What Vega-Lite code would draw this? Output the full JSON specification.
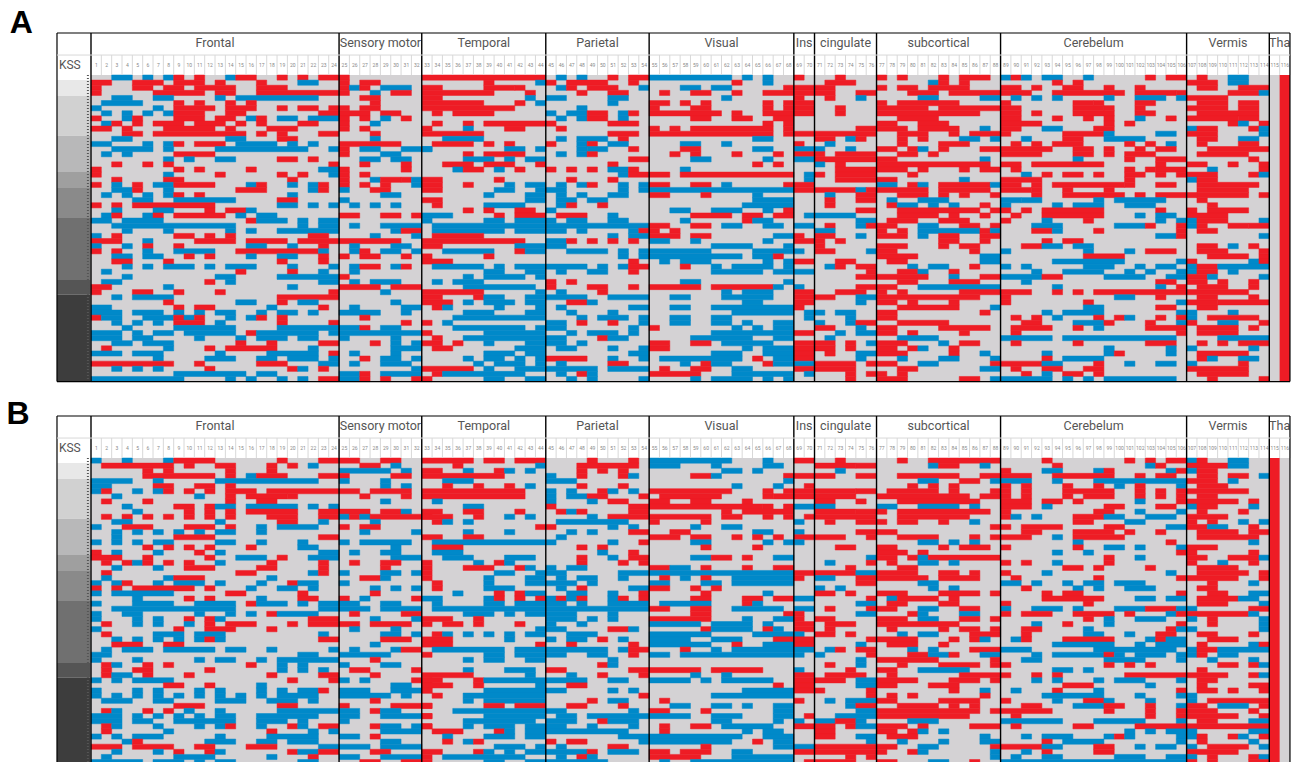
{"$schema":"https://vega.github.io/schema/vega-lite/v6.json","padding":0,"spacing":0,"background":"white","config":{"view":{"stroke":null},"axis":{"disable":true},"concat":{"spacing":0}},
"datasets":{"A":[
{"r":0,"a":2,"b":4,"v":"B"},{"r":0,"a":5,"b":6,"v":"B"},{"r":0,"a":7,"b":8,"v":"B"},{"r":0,"a":8,"b":9,"v":"R"},{"r":0,"a":10,"b":11,"v":"R"},{"r":0,"a":13,"b":14,"v":"B"},{"r":0,"a":14,"b":16,"v":"R"},{"r":0,"a":18,"b":19,"v":"R"},{"r":0,"a":20,"b":21,"v":"R"},{"r":0,"a":22,"b":25,"v":"R"},
{"r":1,"a":0,"b":2,"v":"R"},{"r":1,"a":4,"b":7,"v":"R"},{"r":1,"a":8,"b":11,"v":"R"},{"r":1,"a":12,"b":13,"v":"R"},{"r":1,"a":16,"b":17,"v":"R"},{"r":1,"a":20,"b":22,"v":"B"},{"r":1,"a":24,"b":25,"v":"R"},{"r":1,"a":26,"b":28,"v":"R"},
{"r":2,"a":0,"b":1,"v":"R"},{"r":2,"a":4,"b":6,"v":"R"},{"r":2,"a":7,"b":9,"v":"R"},{"r":2,"a":10,"b":14,"v":"R"},{"r":2,"a":16,"b":19,"v":"R"},{"r":2,"a":24,"b":25,"v":"R"},{"r":2,"a":25,"b":26,"v":"B"},{"r":2,"a":26,"b":27,"v":"R"},{"r":2,"a":28,"b":31,"v":"B"},
{"r":3,"a":0,"b":1,"v":"R"},{"r":3,"a":6,"b":11,"v":"R"},{"r":3,"a":12,"b":14,"v":"R"},{"r":3,"a":16,"b":25,"v":"R"},{"r":3,"a":27,"b":28,"v":"B"},{"r":3,"a":29,"b":31,"v":"R"},
{"r":4,"a":2,"b":4,"v":"B"},{"r":4,"a":6,"b":8,"v":"B"},{"r":4,"a":12,"b":13,"v":"B"},{"r":4,"a":14,"b":22,"v":"B"},{"r":4,"a":26,"b":28,"v":"R"},
{"r":5,"a":1,"b":5,"v":"B"},{"r":5,"a":8,"b":9,"v":"R"},{"r":5,"a":10,"b":11,"v":"R"},{"r":5,"a":13,"b":14,"v":"R"},{"r":5,"a":15,"b":16,"v":"R"},{"r":5,"a":27,"b":28,"v":"R"},
{"r":6,"a":0,"b":1,"v":"B"},{"r":6,"a":6,"b":7,"v":"B"},{"r":6,"a":8,"b":12,"v":"R"},{"r":6,"a":13,"b":16,"v":"R"},{"r":6,"a":18,"b":19,"v":"R"},{"r":6,"a":20,"b":22,"v":"R"},{"r":6,"a":23,"b":25,"v":"R"},{"r":6,"a":26,"b":28,"v":"R"},
{"r":7,"a":1,"b":2,"v":"B"},{"r":7,"a":3,"b":4,"v":"B"},{"r":7,"a":5,"b":6,"v":"B"},{"r":7,"a":7,"b":8,"v":"B"},{"r":7,"a":8,"b":11,"v":"R"},{"r":7,"a":13,"b":15,"v":"R"},{"r":7,"a":22,"b":27,"v":"R"},{"r":7,"a":28,"b":30,"v":"R"},
{"r":8,"a":0,"b":1,"v":"R"},{"r":8,"a":3,"b":4,"v":"B"},{"r":8,"a":4,"b":5,"v":"R"},{"r":8,"a":8,"b":11,"v":"R"},{"r":8,"a":12,"b":14,"v":"R"},{"r":8,"a":15,"b":16,"v":"B"},{"r":8,"a":16,"b":17,"v":"R"},{"r":8,"a":18,"b":20,"v":"B"},{"r":8,"a":21,"b":24,"v":"B"},{"r":8,"a":24,"b":25,"v":"R"},{"r":8,"a":26,"b":27,"v":"R"},{"r":8,"a":28,"b":29,"v":"B"},{"r":8,"a":30,"b":31,"v":"R"},
{"r":9,"a":1,"b":2,"v":"B"},{"r":9,"a":2,"b":3,"v":"R"},{"r":9,"a":4,"b":5,"v":"R"},{"r":9,"a":6,"b":9,"v":"R"},{"r":9,"a":10,"b":13,"v":"R"},{"r":9,"a":14,"b":15,"v":"R"},{"r":9,"a":16,"b":17,"v":"R"},{"r":9,"a":20,"b":22,"v":"R"},{"r":9,"a":24,"b":25,"v":"R"},{"r":9,"a":27,"b":28,"v":"B"},
{"r":10,"a":0,"b":2,"v":"R"},{"r":10,"a":3,"b":4,"v":"R"},{"r":10,"a":7,"b":12,"v":"R"},{"r":10,"a":13,"b":14,"v":"R"},{"r":10,"a":17,"b":20,"v":"R"},{"r":10,"a":24,"b":25,"v":"R"},{"r":10,"a":26,"b":27,"v":"R"},
{"r":11,"a":3,"b":5,"v":"R"},{"r":11,"a":6,"b":15,"v":"R"},{"r":11,"a":16,"b":17,"v":"R"},{"r":11,"a":18,"b":19,"v":"R"},{"r":11,"a":22,"b":24,"v":"R"},{"r":11,"a":27,"b":28,"v":"R"},
{"r":12,"a":2,"b":4,"v":"B"},{"r":12,"a":13,"b":15,"v":"B"},{"r":12,"a":18,"b":20,"v":"R"},{"r":12,"a":27,"b":28,"v":"B"},
{"r":13,"a":0,"b":2,"v":"B"},{"r":13,"a":5,"b":6,"v":"B"},{"r":13,"a":7,"b":8,"v":"B"},{"r":13,"a":8,"b":9,"v":"R"},{"r":13,"a":10,"b":13,"v":"R"},{"r":13,"a":14,"b":18,"v":"B"},{"r":13,"a":19,"b":20,"v":"B"},{"r":13,"a":21,"b":22,"v":"B"},{"r":13,"a":24,"b":30,"v":"R"},
{"r":14,"a":2,"b":6,"v":"B"},{"r":14,"a":7,"b":8,"v":"B"},{"r":14,"a":12,"b":21,"v":"B"},{"r":14,"a":23,"b":24,"v":"B"},{"r":14,"a":24,"b":25,"v":"R"},{"r":14,"a":26,"b":28,"v":"B"},{"r":14,"a":30,"b":33,"v":"B"},
{"r":15,"a":1,"b":2,"v":"B"},{"r":15,"a":3,"b":4,"v":"B"},{"r":15,"a":8,"b":12,"v":"R"},{"r":15,"a":24,"b":25,"v":"R"},{"r":15,"a":28,"b":30,"v":"B"},
{"r":16,"a":7,"b":8,"v":"B"},{"r":16,"a":9,"b":10,"v":"B"},{"r":16,"a":12,"b":14,"v":"B"},{"r":16,"a":18,"b":20,"v":"R"},{"r":16,"a":21,"b":22,"v":"R"},{"r":16,"a":26,"b":28,"v":"B"},{"r":16,"a":29,"b":31,"v":"B"},
{"r":17,"a":2,"b":3,"v":"R"},{"r":17,"a":5,"b":6,"v":"R"},{"r":17,"a":7,"b":8,"v":"R"},{"r":17,"a":23,"b":24,"v":"R"},{"r":17,"a":26,"b":27,"v":"R"},{"r":17,"a":30,"b":31,"v":"R"},
{"r":18,"a":0,"b":1,"v":"R"},{"r":18,"a":8,"b":9,"v":"R"},{"r":18,"a":10,"b":11,"v":"R"},{"r":18,"a":15,"b":16,"v":"R"},{"r":18,"a":22,"b":24,"v":"B"},{"r":18,"a":24,"b":25,"v":"R"},{"r":18,"a":30,"b":31,"v":"R"},
{"r":19,"a":0,"b":1,"v":"R"},{"r":19,"a":7,"b":8,"v":"B"},{"r":19,"a":12,"b":13,"v":"R"},{"r":19,"a":18,"b":19,"v":"R"},{"r":19,"a":20,"b":21,"v":"R"},{"r":19,"a":23,"b":24,"v":"B"},{"r":19,"a":24,"b":25,"v":"R"},{"r":19,"a":26,"b":27,"v":"R"},
{"r":20,"a":2,"b":3,"v":"R"},{"r":20,"a":7,"b":9,"v":"R"},{"r":20,"a":19,"b":20,"v":"R"},{"r":20,"a":24,"b":25,"v":"R"},{"r":20,"a":27,"b":28,"v":"B"},{"r":20,"a":28,"b":30,"v":"R"},{"r":20,"a":30,"b":31,"v":"R"},{"r":20,"a":31,"b":32,"v":"B"},
{"r":21,"a":0,"b":1,"v":"R"},{"r":21,"a":2,"b":3,"v":"B"},{"r":21,"a":4,"b":5,"v":"R"},{"r":21,"a":6,"b":8,"v":"B"},{"r":21,"a":8,"b":12,"v":"R"},{"r":21,"a":15,"b":16,"v":"B"},{"r":21,"a":16,"b":17,"v":"R"},{"r":21,"a":19,"b":20,"v":"B"},{"r":21,"a":21,"b":22,"v":"B"},{"r":21,"a":22,"b":23,"v":"R"},{"r":21,"a":24,"b":25,"v":"R"},{"r":21,"a":26,"b":27,"v":"R"},{"r":21,"a":28,"b":29,"v":"R"},{"r":21,"a":31,"b":32,"v":"B"},
{"r":22,"a":2,"b":4,"v":"B"},{"r":22,"a":4,"b":5,"v":"R"},{"r":22,"a":7,"b":8,"v":"B"},{"r":22,"a":14,"b":17,"v":"R"},{"r":22,"a":21,"b":22,"v":"B"},{"r":22,"a":22,"b":23,"v":"R"},{"r":22,"a":24,"b":25,"v":"B"},{"r":22,"a":27,"b":29,"v":"R"},
{"r":23,"a":1,"b":2,"v":"B"},{"r":23,"a":3,"b":4,"v":"B"},{"r":23,"a":5,"b":6,"v":"B"},{"r":23,"a":7,"b":8,"v":"B"},{"r":23,"a":8,"b":9,"v":"R"},{"r":23,"a":10,"b":11,"v":"R"},{"r":23,"a":19,"b":20,"v":"B"},{"r":23,"a":28,"b":30,"v":"B"},
{"r":24,"a":4,"b":6,"v":"B"},{"r":24,"a":8,"b":14,"v":"B"},{"r":24,"a":18,"b":20,"v":"R"},{"r":24,"a":24,"b":25,"v":"B"},
{"r":25,"a":0,"b":1,"v":"R"},{"r":25,"a":2,"b":3,"v":"R"},{"r":25,"a":4,"b":12,"v":"R"},{"r":25,"a":18,"b":20,"v":"B"},{"r":25,"a":21,"b":22,"v":"B"},{"r":25,"a":23,"b":24,"v":"B"},{"r":25,"a":25,"b":26,"v":"B"},{"r":25,"a":27,"b":28,"v":"B"},{"r":25,"a":29,"b":30,"v":"B"},
{"r":26,"a":2,"b":3,"v":"B"},{"r":26,"a":6,"b":8,"v":"B"},{"r":26,"a":11,"b":12,"v":"R"},{"r":26,"a":13,"b":15,"v":"R"},{"r":26,"a":15,"b":16,"v":"B"},
{"r":27,"a":1,"b":2,"v":"B"},{"r":27,"a":2,"b":3,"v":"R"},{"r":27,"a":5,"b":6,"v":"B"},{"r":27,"a":6,"b":7,"v":"R"},{"r":27,"a":8,"b":13,"v":"R"},{"r":27,"a":14,"b":15,"v":"B"},{"r":27,"a":16,"b":18,"v":"B"},{"r":27,"a":24,"b":26,"v":"R"},{"r":27,"a":28,"b":30,"v":"R"},{"r":27,"a":31,"b":32,"v":"R"},
{"r":28,"a":0,"b":2,"v":"B"},{"r":28,"a":3,"b":7,"v":"B"},{"r":28,"a":15,"b":16,"v":"R"},{"r":28,"a":16,"b":19,"v":"B"},{"r":28,"a":20,"b":21,"v":"B"},{"r":28,"a":22,"b":24,"v":"B"},
{"r":29,"a":2,"b":14,"v":"B"},{"r":29,"a":20,"b":21,"v":"B"},{"r":29,"a":22,"b":24,"v":"B"},{"r":29,"a":25,"b":26,"v":"B"},{"r":29,"a":28,"b":32,"v":"B"},
{"r":30,"a":3,"b":4,"v":"B"},{"r":30,"a":7,"b":8,"v":"B"},{"r":30,"a":13,"b":14,"v":"B"},{"r":30,"a":15,"b":16,"v":"B"},{"r":30,"a":18,"b":24,"v":"B"},{"r":30,"a":29,"b":30,"v":"B"},{"r":30,"a":30,"b":32,"v":"R"},
{"r":31,"a":0,"b":1,"v":"B"},{"r":31,"a":2,"b":3,"v":"R"},{"r":31,"a":8,"b":10,"v":"R"},{"r":31,"a":11,"b":12,"v":"R"},{"r":31,"a":13,"b":14,"v":"R"},{"r":31,"a":21,"b":23,"v":"R"},{"r":31,"a":27,"b":28,"v":"B"},{"r":31,"a":31,"b":32,"v":"B"},
{"r":32,"a":0,"b":3,"v":"R"},{"r":32,"a":5,"b":6,"v":"B"},{"r":32,"a":10,"b":14,"v":"R"},{"r":32,"a":15,"b":19,"v":"R"},{"r":32,"a":20,"b":30,"v":"R"},
{"r":33,"a":0,"b":1,"v":"B"},{"r":33,"a":3,"b":4,"v":"B"},{"r":33,"a":5,"b":6,"v":"R"},{"r":33,"a":8,"b":9,"v":"R"},{"r":33,"a":15,"b":17,"v":"B"},{"r":33,"a":19,"b":20,"v":"B"},{"r":33,"a":22,"b":23,"v":"R"},{"r":33,"a":25,"b":26,"v":"B"},{"r":33,"a":29,"b":31,"v":"B"},
{"r":34,"a":0,"b":1,"v":"R"},{"r":34,"a":2,"b":3,"v":"R"},{"r":34,"a":5,"b":6,"v":"B"},{"r":34,"a":8,"b":12,"v":"B"},{"r":34,"a":14,"b":22,"v":"R"},{"r":34,"a":22,"b":23,"v":"B"},{"r":34,"a":25,"b":26,"v":"B"},{"r":34,"a":26,"b":27,"v":"R"},{"r":34,"a":28,"b":30,"v":"B"},{"r":34,"a":31,"b":32,"v":"B"},
{"r":35,"a":2,"b":4,"v":"B"},{"r":35,"a":5,"b":7,"v":"B"},{"r":35,"a":9,"b":10,"v":"R"},{"r":35,"a":11,"b":12,"v":"R"},{"r":35,"a":15,"b":16,"v":"B"},{"r":35,"a":18,"b":20,"v":"B"},{"r":35,"a":22,"b":23,"v":"R"},{"r":35,"a":24,"b":25,"v":"R"},{"r":35,"a":26,"b":28,"v":"R"},{"r":35,"a":30,"b":31,"v":"R"},
{"r":36,"a":2,"b":4,"v":"R"},{"r":36,"a":7,"b":8,"v":"R"},{"r":36,"a":18,"b":19,"v":"R"},{"r":36,"a":22,"b":23,"v":"R"},
{"r":37,"a":3,"b":4,"v":"B"},{"r":37,"a":5,"b":6,"v":"B"},{"r":37,"a":7,"b":10,"v":"B"},{"r":37,"a":11,"b":12,"v":"B"},{"r":37,"a":13,"b":16,"v":"B"},{"r":37,"a":19,"b":20,"v":"B"},{"r":37,"a":23,"b":24,"v":"B"},{"r":37,"a":25,"b":26,"v":"B"},{"r":37,"a":26,"b":28,"v":"R"},{"r":37,"a":29,"b":30,"v":"B"},{"r":37,"a":30,"b":31,"v":"R"},
{"r":38,"a":1,"b":2,"v":"B"},{"r":38,"a":14,"b":15,"v":"R"},{"r":38,"a":19,"b":20,"v":"R"},{"r":38,"a":22,"b":23,"v":"B"},{"r":38,"a":25,"b":26,"v":"B"},
{"r":39,"a":3,"b":4,"v":"B"},{"r":39,"a":12,"b":14,"v":"B"},{"r":39,"a":18,"b":24,"v":"B"},{"r":39,"a":24,"b":25,"v":"R"},
{"r":40,"a":1,"b":3,"v":"B"},{"r":40,"a":11,"b":12,"v":"R"},{"r":40,"a":13,"b":14,"v":"B"},{"r":40,"a":22,"b":24,"v":"B"},{"r":40,"a":25,"b":26,"v":"B"},{"r":40,"a":27,"b":30,"v":"B"},
{"r":41,"a":0,"b":2,"v":"R"},{"r":41,"a":7,"b":8,"v":"B"},{"r":41,"a":19,"b":20,"v":"B"},{"r":41,"a":24,"b":28,"v":"R"},{"r":41,"a":29,"b":32,"v":"R"},
{"r":42,"a":0,"b":1,"v":"R"},{"r":42,"a":4,"b":6,"v":"R"},{"r":42,"a":8,"b":9,"v":"R"},{"r":42,"a":12,"b":13,"v":"R"},{"r":42,"a":23,"b":24,"v":"R"},{"r":42,"a":28,"b":29,"v":"B"},
{"r":43,"a":2,"b":3,"v":"B"},{"r":43,"a":4,"b":8,"v":"B"},{"r":43,"a":18,"b":24,"v":"R"},
{"r":44,"a":7,"b":8,"v":"R"},{"r":44,"a":14,"b":16,"v":"B"},{"r":44,"a":18,"b":19,"v":"R"},{"r":44,"a":20,"b":22,"v":"B"},{"r":44,"a":29,"b":30,"v":"B"},
{"r":45,"a":0,"b":2,"v":"B"},{"r":45,"a":8,"b":9,"v":"R"},{"r":45,"a":10,"b":12,"v":"R"},{"r":45,"a":17,"b":18,"v":"B"},{"r":45,"a":22,"b":23,"v":"R"},{"r":45,"a":25,"b":26,"v":"B"},{"r":45,"a":30,"b":32,"v":"B"},
{"r":46,"a":0,"b":3,"v":"B"},{"r":46,"a":4,"b":7,"v":"B"},{"r":46,"a":8,"b":9,"v":"B"},{"r":46,"a":10,"b":11,"v":"B"},{"r":46,"a":12,"b":14,"v":"B"},{"r":46,"a":16,"b":17,"v":"B"},{"r":46,"a":18,"b":20,"v":"B"},{"r":46,"a":21,"b":22,"v":"B"},{"r":46,"a":24,"b":28,"v":"B"},{"r":46,"a":30,"b":31,"v":"B"},
{"r":47,"a":0,"b":1,"v":"R"},{"r":47,"a":1,"b":3,"v":"B"},{"r":47,"a":5,"b":8,"v":"B"},{"r":47,"a":8,"b":9,"v":"R"},{"r":47,"a":9,"b":10,"v":"B"},{"r":47,"a":10,"b":11,"v":"R"},{"r":47,"a":13,"b":14,"v":"B"},{"r":47,"a":15,"b":16,"v":"B"},{"r":47,"a":16,"b":17,"v":"R"},{"r":47,"a":18,"b":19,"v":"R"},{"r":47,"a":26,"b":27,"v":"R"},
{"r":48,"a":2,"b":3,"v":"B"},{"r":48,"a":4,"b":5,"v":"B"},{"r":48,"a":6,"b":7,"v":"B"},{"r":48,"a":8,"b":11,"v":"R"},{"r":48,"a":12,"b":13,"v":"B"},{"r":48,"a":18,"b":19,"v":"R"},{"r":48,"a":23,"b":24,"v":"R"},{"r":48,"a":30,"b":31,"v":"R"},
{"r":49,"a":3,"b":4,"v":"B"},{"r":49,"a":8,"b":14,"v":"B"},{"r":49,"a":18,"b":26,"v":"B"},{"r":49,"a":26,"b":27,"v":"R"},{"r":49,"a":28,"b":30,"v":"B"},
{"r":50,"a":0,"b":3,"v":"B"},{"r":50,"a":4,"b":5,"v":"B"},{"r":50,"a":6,"b":8,"v":"B"},{"r":50,"a":9,"b":14,"v":"B"},{"r":50,"a":15,"b":16,"v":"R"},{"r":50,"a":16,"b":22,"v":"B"},{"r":50,"a":23,"b":32,"v":"B"},
{"r":51,"a":0,"b":3,"v":"B"},{"r":51,"a":4,"b":6,"v":"B"},{"r":51,"a":10,"b":11,"v":"B"},{"r":51,"a":14,"b":15,"v":"B"},{"r":51,"a":16,"b":19,"v":"B"},{"r":51,"a":20,"b":22,"v":"B"},{"r":51,"a":24,"b":25,"v":"B"},{"r":51,"a":29,"b":30,"v":"B"},
{"r":52,"a":2,"b":4,"v":"B"},{"r":52,"a":5,"b":8,"v":"B"},{"r":52,"a":14,"b":15,"v":"R"},{"r":52,"a":17,"b":18,"v":"R"},{"r":52,"a":22,"b":24,"v":"R"},{"r":52,"a":27,"b":28,"v":"R"},{"r":52,"a":29,"b":30,"v":"B"},{"r":52,"a":31,"b":32,"v":"B"},
{"r":53,"a":1,"b":2,"v":"R"},{"r":53,"a":7,"b":8,"v":"B"},{"r":53,"a":11,"b":12,"v":"R"},{"r":53,"a":13,"b":18,"v":"R"},{"r":53,"a":21,"b":22,"v":"B"},{"r":53,"a":29,"b":32,"v":"B"},
{"r":54,"a":0,"b":3,"v":"B"},{"r":54,"a":4,"b":7,"v":"B"},{"r":54,"a":12,"b":13,"v":"B"},{"r":54,"a":17,"b":22,"v":"B"},{"r":54,"a":23,"b":24,"v":"R"},{"r":54,"a":25,"b":26,"v":"B"},{"r":54,"a":29,"b":30,"v":"B"},
{"r":55,"a":6,"b":7,"v":"B"},{"r":55,"a":11,"b":14,"v":"B"},{"r":55,"a":16,"b":18,"v":"B"},{"r":55,"a":19,"b":22,"v":"B"},{"r":55,"a":23,"b":24,"v":"B"},{"r":55,"a":26,"b":27,"v":"R"},{"r":55,"a":28,"b":30,"v":"B"},{"r":55,"a":31,"b":32,"v":"B"},
{"r":56,"a":0,"b":8,"v":"R"},{"r":56,"a":10,"b":11,"v":"R"},{"r":56,"a":16,"b":19,"v":"R"},{"r":56,"a":22,"b":24,"v":"B"},{"r":56,"a":25,"b":26,"v":"B"},{"r":56,"a":28,"b":31,"v":"B"},
{"r":57,"a":2,"b":3,"v":"B"},{"r":57,"a":4,"b":5,"v":"B"},{"r":57,"a":6,"b":7,"v":"B"},{"r":57,"a":11,"b":12,"v":"R"},{"r":57,"a":19,"b":20,"v":"R"},{"r":57,"a":20,"b":21,"v":"B"},{"r":57,"a":22,"b":23,"v":"R"},{"r":57,"a":31,"b":32,"v":"B"},
{"r":58,"a":8,"b":15,"v":"B"},{"r":58,"a":16,"b":18,"v":"B"},{"r":58,"a":24,"b":26,"v":"B"},{"r":58,"a":26,"b":27,"v":"R"},{"r":58,"a":28,"b":32,"v":"B"},
{"r":59,"a":0,"b":9,"v":"B"},{"r":59,"a":13,"b":14,"v":"B"},{"r":59,"a":15,"b":16,"v":"B"},{"r":59,"a":18,"b":19,"v":"B"},{"r":59,"a":20,"b":21,"v":"B"},{"r":59,"a":22,"b":24,"v":"R"},{"r":59,"a":24,"b":26,"v":"B"},{"r":59,"a":26,"b":27,"v":"R"},{"r":59,"a":28,"b":29,"v":"R"},{"r":59,"a":31,"b":32,"v":"R"},
{"r":0,"a":32,"b":44,"v":"R"},{"r":0,"a":45,"b":46,"v":"B"},{"r":0,"a":47,"b":48,"v":"B"},{"r":0,"a":50,"b":51,"v":"R"},{"r":0,"a":52,"b":54,"v":"R"},{"r":0,"a":54,"b":62,"v":"B"},{"r":0,"a":63,"b":64,"v":"B"},{"r":0,"a":65,"b":66,"v":"B"},{"r":0,"a":68,"b":69,"v":"R"},{"r":0,"a":72,"b":73,"v":"R"},
{"r":1,"a":38,"b":39,"v":"R"},{"r":1,"a":43,"b":44,"v":"B"},{"r":1,"a":44,"b":45,"v":"R"},{"r":1,"a":46,"b":50,"v":"R"},{"r":1,"a":52,"b":53,"v":"R"},{"r":1,"a":62,"b":63,"v":"R"},{"r":1,"a":65,"b":66,"v":"B"},{"r":1,"a":71,"b":74,"v":"R"},
{"r":2,"a":32,"b":34,"v":"R"},{"r":2,"a":38,"b":41,"v":"R"},{"r":2,"a":41,"b":42,"v":"R"},{"r":2,"a":45,"b":46,"v":"B"},{"r":2,"a":46,"b":47,"v":"R"},{"r":2,"a":48,"b":51,"v":"R"},{"r":2,"a":53,"b":54,"v":"B"},{"r":2,"a":57,"b":59,"v":"B"},{"r":2,"a":60,"b":62,"v":"B"},{"r":2,"a":67,"b":72,"v":"R"},
{"r":3,"a":32,"b":39,"v":"R"},{"r":3,"a":42,"b":43,"v":"R"},{"r":3,"a":47,"b":48,"v":"R"},{"r":3,"a":50,"b":52,"v":"R"},{"r":3,"a":55,"b":56,"v":"R"},{"r":3,"a":58,"b":60,"v":"R"},{"r":3,"a":62,"b":63,"v":"R"},{"r":3,"a":65,"b":72,"v":"R"},{"r":3,"a":74,"b":76,"v":"R"},
{"r":4,"a":32,"b":34,"v":"R"},{"r":4,"a":42,"b":43,"v":"B"},{"r":4,"a":44,"b":46,"v":"B"},{"r":4,"a":50,"b":52,"v":"B"},{"r":4,"a":61,"b":62,"v":"B"},{"r":4,"a":68,"b":69,"v":"R"},{"r":4,"a":71,"b":72,"v":"R"},{"r":4,"a":74,"b":75,"v":"B"},
{"r":5,"a":32,"b":38,"v":"R"},{"r":5,"a":41,"b":42,"v":"R"},{"r":5,"a":43,"b":44,"v":"B"},{"r":5,"a":50,"b":51,"v":"B"},{"r":5,"a":54,"b":56,"v":"R"},{"r":5,"a":57,"b":58,"v":"R"},{"r":5,"a":59,"b":60,"v":"R"},{"r":5,"a":65,"b":66,"v":"R"},{"r":5,"a":67,"b":70,"v":"R"},
{"r":6,"a":32,"b":41,"v":"R"},{"r":6,"a":47,"b":48,"v":"B"},{"r":6,"a":54,"b":55,"v":"R"},{"r":6,"a":58,"b":60,"v":"R"},{"r":6,"a":65,"b":66,"v":"R"},{"r":6,"a":67,"b":70,"v":"R"},{"r":6,"a":72,"b":73,"v":"R"},
{"r":7,"a":33,"b":34,"v":"R"},{"r":7,"a":35,"b":39,"v":"R"},{"r":7,"a":44,"b":45,"v":"B"},{"r":7,"a":46,"b":48,"v":"B"},{"r":7,"a":48,"b":50,"v":"R"},{"r":7,"a":51,"b":52,"v":"B"},{"r":7,"a":52,"b":53,"v":"R"},{"r":7,"a":54,"b":61,"v":"R"},{"r":7,"a":62,"b":63,"v":"R"},{"r":7,"a":65,"b":70,"v":"R"},{"r":7,"a":72,"b":73,"v":"R"},
{"r":8,"a":45,"b":46,"v":"B"},{"r":8,"a":47,"b":48,"v":"B"},{"r":8,"a":48,"b":50,"v":"R"},{"r":8,"a":51,"b":52,"v":"B"},{"r":8,"a":58,"b":60,"v":"R"},{"r":8,"a":62,"b":64,"v":"R"},{"r":8,"a":66,"b":68,"v":"R"},
{"r":9,"a":33,"b":34,"v":"R"},{"r":9,"a":36,"b":37,"v":"R"},{"r":9,"a":38,"b":45,"v":"R"},{"r":9,"a":50,"b":53,"v":"R"},{"r":9,"a":65,"b":66,"v":"R"},{"r":9,"a":67,"b":68,"v":"R"},
{"r":10,"a":32,"b":33,"v":"R"},{"r":10,"a":36,"b":37,"v":"B"},{"r":10,"a":40,"b":42,"v":"R"},{"r":10,"a":45,"b":46,"v":"R"},{"r":10,"a":54,"b":55,"v":"R"},{"r":10,"a":56,"b":57,"v":"R"},{"r":10,"a":58,"b":66,"v":"R"},{"r":10,"a":67,"b":68,"v":"R"},{"r":10,"a":74,"b":76,"v":"R"},
{"r":11,"a":32,"b":38,"v":"R"},{"r":11,"a":50,"b":53,"v":"R"},{"r":11,"a":54,"b":66,"v":"R"},{"r":11,"a":67,"b":76,"v":"R"},
{"r":12,"a":34,"b":38,"v":"B"},{"r":12,"a":45,"b":46,"v":"B"},{"r":12,"a":47,"b":50,"v":"B"},{"r":12,"a":51,"b":52,"v":"R"},{"r":12,"a":64,"b":66,"v":"B"},{"r":12,"a":70,"b":72,"v":"R"},{"r":12,"a":73,"b":74,"v":"B"},{"r":12,"a":74,"b":75,"v":"R"},
{"r":13,"a":33,"b":37,"v":"R"},{"r":13,"a":38,"b":39,"v":"R"},{"r":13,"a":40,"b":41,"v":"R"},{"r":13,"a":44,"b":45,"v":"R"},{"r":13,"a":47,"b":48,"v":"B"},{"r":13,"a":48,"b":49,"v":"R"},{"r":13,"a":50,"b":52,"v":"B"},{"r":13,"a":57,"b":59,"v":"B"},{"r":13,"a":61,"b":62,"v":"B"},{"r":13,"a":68,"b":69,"v":"R"},{"r":13,"a":71,"b":72,"v":"B"},
{"r":14,"a":32,"b":33,"v":"B"},{"r":14,"a":40,"b":42,"v":"B"},{"r":14,"a":43,"b":44,"v":"B"},{"r":14,"a":47,"b":48,"v":"B"},{"r":14,"a":48,"b":50,"v":"B"},{"r":14,"a":52,"b":53,"v":"R"},{"r":14,"a":57,"b":59,"v":"R"},{"r":14,"a":64,"b":66,"v":"B"},{"r":14,"a":68,"b":71,"v":"B"},{"r":14,"a":73,"b":74,"v":"B"},
{"r":15,"a":36,"b":37,"v":"R"},{"r":15,"a":38,"b":42,"v":"R"},{"r":15,"a":45,"b":46,"v":"B"},{"r":15,"a":47,"b":48,"v":"B"},{"r":15,"a":48,"b":49,"v":"R"},{"r":15,"a":56,"b":57,"v":"R"},{"r":15,"a":58,"b":59,"v":"R"},{"r":15,"a":62,"b":63,"v":"R"},{"r":15,"a":66,"b":67,"v":"R"},{"r":15,"a":68,"b":71,"v":"R"},{"r":15,"a":72,"b":76,"v":"R"},
{"r":16,"a":36,"b":39,"v":"B"},{"r":16,"a":40,"b":41,"v":"B"},{"r":16,"a":42,"b":44,"v":"B"},{"r":16,"a":52,"b":54,"v":"R"},{"r":16,"a":58,"b":60,"v":"B"},{"r":16,"a":65,"b":66,"v":"B"},{"r":16,"a":68,"b":70,"v":"B"},{"r":16,"a":70,"b":76,"v":"R"},
{"r":17,"a":34,"b":37,"v":"R"},{"r":17,"a":38,"b":41,"v":"R"},{"r":17,"a":43,"b":44,"v":"R"},{"r":17,"a":50,"b":51,"v":"R"},{"r":17,"a":64,"b":65,"v":"R"},{"r":17,"a":66,"b":67,"v":"R"},{"r":17,"a":70,"b":71,"v":"B"},{"r":17,"a":72,"b":73,"v":"R"},
{"r":18,"a":35,"b":36,"v":"B"},{"r":18,"a":36,"b":38,"v":"R"},{"r":18,"a":39,"b":40,"v":"B"},{"r":18,"a":41,"b":42,"v":"R"},{"r":18,"a":44,"b":45,"v":"R"},{"r":18,"a":46,"b":47,"v":"R"},{"r":18,"a":48,"b":49,"v":"R"},{"r":18,"a":50,"b":52,"v":"B"},{"r":18,"a":52,"b":53,"v":"R"},{"r":18,"a":57,"b":58,"v":"B"},{"r":18,"a":72,"b":76,"v":"R"},
{"r":19,"a":51,"b":52,"v":"B"},{"r":19,"a":52,"b":56,"v":"R"},{"r":19,"a":57,"b":68,"v":"R"},{"r":19,"a":69,"b":70,"v":"B"},{"r":19,"a":70,"b":71,"v":"R"},{"r":19,"a":72,"b":76,"v":"R"},
{"r":20,"a":32,"b":34,"v":"R"},{"r":20,"a":39,"b":40,"v":"R"},{"r":20,"a":46,"b":47,"v":"R"},{"r":20,"a":50,"b":51,"v":"R"},{"r":20,"a":69,"b":70,"v":"B"},{"r":20,"a":72,"b":76,"v":"R"},
{"r":21,"a":32,"b":34,"v":"R"},{"r":21,"a":36,"b":37,"v":"R"},{"r":21,"a":40,"b":41,"v":"B"},{"r":21,"a":42,"b":44,"v":"B"},{"r":21,"a":45,"b":46,"v":"B"},{"r":21,"a":47,"b":48,"v":"B"},{"r":21,"a":48,"b":49,"v":"R"},{"r":21,"a":51,"b":52,"v":"B"},{"r":21,"a":53,"b":54,"v":"B"},{"r":21,"a":54,"b":56,"v":"R"},{"r":21,"a":58,"b":60,"v":"R"},{"r":21,"a":61,"b":62,"v":"B"},{"r":21,"a":67,"b":70,"v":"R"},
{"r":22,"a":32,"b":34,"v":"R"},{"r":22,"a":39,"b":41,"v":"B"},{"r":22,"a":43,"b":46,"v":"B"},{"r":22,"a":51,"b":52,"v":"B"},{"r":22,"a":53,"b":68,"v":"B"},{"r":22,"a":68,"b":74,"v":"R"},{"r":22,"a":74,"b":75,"v":"B"},{"r":22,"a":75,"b":76,"v":"R"},
{"r":23,"a":38,"b":39,"v":"B"},{"r":23,"a":42,"b":44,"v":"B"},{"r":23,"a":45,"b":46,"v":"B"},{"r":23,"a":47,"b":48,"v":"B"},{"r":23,"a":50,"b":52,"v":"B"},{"r":23,"a":54,"b":56,"v":"R"},{"r":23,"a":59,"b":60,"v":"R"},{"r":23,"a":64,"b":65,"v":"B"},{"r":23,"a":71,"b":72,"v":"B"},{"r":23,"a":74,"b":76,"v":"R"},
{"r":24,"a":32,"b":34,"v":"R"},{"r":24,"a":42,"b":44,"v":"B"},{"r":24,"a":45,"b":47,"v":"B"},{"r":24,"a":48,"b":50,"v":"B"},{"r":24,"a":64,"b":68,"v":"B"},{"r":24,"a":71,"b":72,"v":"R"},{"r":24,"a":74,"b":76,"v":"R"},
{"r":25,"a":33,"b":34,"v":"R"},{"r":25,"a":38,"b":42,"v":"B"},{"r":25,"a":45,"b":46,"v":"B"},{"r":25,"a":46,"b":47,"v":"R"},{"r":25,"a":49,"b":50,"v":"R"},{"r":25,"a":63,"b":68,"v":"B"},{"r":25,"a":71,"b":72,"v":"R"},
{"r":26,"a":36,"b":37,"v":"R"},{"r":26,"a":38,"b":39,"v":"R"},{"r":26,"a":41,"b":43,"v":"R"},{"r":26,"a":44,"b":45,"v":"B"},{"r":26,"a":56,"b":58,"v":"B"},{"r":26,"a":60,"b":63,"v":"B"},{"r":26,"a":65,"b":66,"v":"B"},{"r":26,"a":67,"b":68,"v":"R"},{"r":26,"a":74,"b":76,"v":"R"},
{"r":27,"a":32,"b":35,"v":"B"},{"r":27,"a":39,"b":40,"v":"R"},{"r":27,"a":41,"b":44,"v":"R"},{"r":27,"a":45,"b":48,"v":"R"},{"r":27,"a":50,"b":51,"v":"B"},{"r":27,"a":58,"b":62,"v":"R"},{"r":27,"a":63,"b":65,"v":"R"},{"r":27,"a":66,"b":68,"v":"R"},{"r":27,"a":69,"b":70,"v":"B"},{"r":27,"a":70,"b":74,"v":"B"},
{"r":28,"a":32,"b":33,"v":"B"},{"r":28,"a":38,"b":40,"v":"B"},{"r":28,"a":41,"b":45,"v":"B"},{"r":28,"a":46,"b":48,"v":"B"},{"r":28,"a":50,"b":52,"v":"B"},{"r":28,"a":57,"b":58,"v":"B"},{"r":28,"a":63,"b":64,"v":"R"},{"r":28,"a":64,"b":66,"v":"B"},{"r":28,"a":74,"b":76,"v":"B"},
{"r":29,"a":33,"b":54,"v":"B"},{"r":29,"a":54,"b":56,"v":"R"},{"r":29,"a":58,"b":60,"v":"R"},{"r":29,"a":61,"b":63,"v":"B"},{"r":29,"a":65,"b":67,"v":"B"},{"r":29,"a":68,"b":70,"v":"B"},{"r":29,"a":71,"b":72,"v":"R"},{"r":29,"a":74,"b":75,"v":"B"},{"r":29,"a":75,"b":76,"v":"R"},
{"r":30,"a":33,"b":40,"v":"B"},{"r":30,"a":41,"b":46,"v":"B"},{"r":30,"a":47,"b":48,"v":"B"},{"r":30,"a":52,"b":53,"v":"B"},{"r":30,"a":53,"b":55,"v":"R"},{"r":30,"a":56,"b":57,"v":"R"},{"r":30,"a":70,"b":72,"v":"B"},
{"r":31,"a":33,"b":38,"v":"R"},{"r":31,"a":50,"b":51,"v":"B"},{"r":31,"a":52,"b":54,"v":"B"},{"r":31,"a":54,"b":57,"v":"R"},{"r":31,"a":58,"b":60,"v":"R"},{"r":31,"a":66,"b":68,"v":"B"},{"r":31,"a":68,"b":69,"v":"R"},{"r":31,"a":70,"b":72,"v":"R"},{"r":31,"a":74,"b":75,"v":"B"},
{"r":32,"a":32,"b":42,"v":"R"},{"r":32,"a":44,"b":46,"v":"B"},{"r":32,"a":46,"b":47,"v":"R"},{"r":32,"a":48,"b":49,"v":"R"},{"r":32,"a":50,"b":51,"v":"R"},{"r":32,"a":52,"b":53,"v":"R"},{"r":32,"a":54,"b":56,"v":"B"},{"r":32,"a":58,"b":59,"v":"B"},{"r":32,"a":65,"b":66,"v":"B"},{"r":32,"a":68,"b":71,"v":"R"},{"r":32,"a":72,"b":73,"v":"R"},
{"r":33,"a":32,"b":34,"v":"R"},{"r":33,"a":41,"b":46,"v":"B"},{"r":33,"a":60,"b":64,"v":"B"},{"r":33,"a":67,"b":68,"v":"B"},{"r":33,"a":70,"b":71,"v":"R"},
{"r":34,"a":34,"b":39,"v":"B"},{"r":34,"a":41,"b":42,"v":"R"},{"r":34,"a":42,"b":44,"v":"B"},{"r":34,"a":46,"b":50,"v":"B"},{"r":34,"a":51,"b":52,"v":"B"},{"r":34,"a":53,"b":60,"v":"B"},{"r":34,"a":64,"b":69,"v":"B"},{"r":34,"a":70,"b":72,"v":"R"},{"r":34,"a":75,"b":76,"v":"B"},
{"r":35,"a":32,"b":33,"v":"R"},{"r":35,"a":38,"b":39,"v":"R"},{"r":35,"a":51,"b":52,"v":"B"},{"r":35,"a":53,"b":63,"v":"B"},{"r":35,"a":64,"b":66,"v":"B"},{"r":35,"a":66,"b":67,"v":"R"},
{"r":36,"a":32,"b":35,"v":"R"},{"r":36,"a":52,"b":53,"v":"R"},{"r":36,"a":55,"b":56,"v":"B"},{"r":36,"a":57,"b":60,"v":"B"},{"r":36,"a":65,"b":66,"v":"B"},{"r":36,"a":67,"b":68,"v":"B"},{"r":36,"a":68,"b":70,"v":"R"},{"r":36,"a":72,"b":74,"v":"R"},
{"r":37,"a":33,"b":38,"v":"B"},{"r":37,"a":39,"b":40,"v":"B"},{"r":37,"a":41,"b":48,"v":"B"},{"r":37,"a":49,"b":50,"v":"B"},{"r":37,"a":51,"b":52,"v":"B"},{"r":37,"a":52,"b":54,"v":"R"},{"r":37,"a":57,"b":58,"v":"R"},{"r":37,"a":60,"b":61,"v":"B"},{"r":37,"a":62,"b":66,"v":"B"},{"r":37,"a":67,"b":68,"v":"B"},{"r":37,"a":71,"b":72,"v":"B"},{"r":37,"a":72,"b":73,"v":"R"},{"r":37,"a":74,"b":76,"v":"R"},
{"r":38,"a":38,"b":40,"v":"B"},{"r":38,"a":42,"b":44,"v":"B"},{"r":38,"a":45,"b":46,"v":"B"},{"r":38,"a":48,"b":50,"v":"B"},{"r":38,"a":52,"b":53,"v":"R"},{"r":38,"a":60,"b":65,"v":"B"},{"r":38,"a":66,"b":70,"v":"B"},{"r":38,"a":75,"b":76,"v":"R"},
{"r":39,"a":36,"b":37,"v":"B"},{"r":39,"a":38,"b":42,"v":"B"},{"r":39,"a":43,"b":44,"v":"B"},{"r":39,"a":74,"b":76,"v":"R"},
{"r":40,"a":33,"b":34,"v":"B"},{"r":40,"a":35,"b":38,"v":"B"},{"r":40,"a":44,"b":45,"v":"R"},{"r":40,"a":46,"b":47,"v":"R"},{"r":40,"a":57,"b":59,"v":"B"},{"r":40,"a":67,"b":68,"v":"B"},
{"r":41,"a":36,"b":43,"v":"B"},{"r":41,"a":44,"b":45,"v":"R"},{"r":41,"a":48,"b":50,"v":"R"},{"r":41,"a":52,"b":53,"v":"R"},{"r":41,"a":54,"b":59,"v":"R"},{"r":41,"a":60,"b":66,"v":"R"},{"r":41,"a":66,"b":67,"v":"B"},{"r":41,"a":68,"b":69,"v":"B"},{"r":41,"a":74,"b":76,"v":"R"},
{"r":42,"a":32,"b":38,"v":"R"},{"r":42,"a":43,"b":44,"v":"B"},{"r":42,"a":45,"b":46,"v":"B"},{"r":42,"a":49,"b":50,"v":"R"},{"r":42,"a":61,"b":62,"v":"B"},{"r":42,"a":63,"b":66,"v":"B"},{"r":42,"a":68,"b":70,"v":"R"},{"r":42,"a":72,"b":75,"v":"R"},
{"r":43,"a":32,"b":34,"v":"R"},{"r":43,"a":37,"b":38,"v":"R"},{"r":43,"a":38,"b":40,"v":"B"},{"r":43,"a":42,"b":48,"v":"B"},{"r":43,"a":50,"b":54,"v":"B"},{"r":43,"a":56,"b":58,"v":"B"},{"r":43,"a":61,"b":66,"v":"B"},{"r":43,"a":68,"b":72,"v":"R"},{"r":43,"a":74,"b":76,"v":"B"},
{"r":44,"a":32,"b":35,"v":"R"},{"r":44,"a":36,"b":37,"v":"B"},{"r":44,"a":38,"b":41,"v":"B"},{"r":44,"a":42,"b":44,"v":"B"},{"r":44,"a":46,"b":48,"v":"R"},{"r":44,"a":48,"b":49,"v":"B"},{"r":44,"a":63,"b":65,"v":"B"},{"r":44,"a":68,"b":70,"v":"R"},{"r":44,"a":74,"b":75,"v":"B"},
{"r":45,"a":33,"b":34,"v":"R"},{"r":45,"a":34,"b":35,"v":"B"},{"r":45,"a":39,"b":40,"v":"B"},{"r":45,"a":43,"b":44,"v":"B"},{"r":45,"a":45,"b":46,"v":"B"},{"r":45,"a":52,"b":54,"v":"B"},{"r":45,"a":56,"b":58,"v":"B"},{"r":45,"a":60,"b":68,"v":"B"},{"r":45,"a":68,"b":69,"v":"R"},
{"r":46,"a":36,"b":39,"v":"B"},{"r":46,"a":42,"b":44,"v":"B"},{"r":46,"a":46,"b":47,"v":"B"},{"r":46,"a":50,"b":51,"v":"B"},{"r":46,"a":62,"b":68,"v":"B"},{"r":46,"a":69,"b":71,"v":"B"},{"r":46,"a":72,"b":74,"v":"B"},
{"r":47,"a":35,"b":44,"v":"B"},{"r":47,"a":47,"b":48,"v":"B"},{"r":47,"a":49,"b":52,"v":"B"},{"r":47,"a":53,"b":54,"v":"B"},{"r":47,"a":56,"b":58,"v":"B"},{"r":47,"a":60,"b":62,"v":"B"},{"r":47,"a":69,"b":70,"v":"B"},{"r":47,"a":73,"b":74,"v":"B"},
{"r":48,"a":32,"b":33,"v":"R"},{"r":48,"a":34,"b":35,"v":"B"},{"r":48,"a":44,"b":46,"v":"B"},{"r":48,"a":47,"b":48,"v":"R"},{"r":48,"a":50,"b":51,"v":"R"},{"r":48,"a":53,"b":54,"v":"B"},{"r":48,"a":56,"b":58,"v":"B"},{"r":48,"a":60,"b":62,"v":"B"},{"r":48,"a":63,"b":64,"v":"B"},{"r":48,"a":66,"b":68,"v":"B"},{"r":48,"a":70,"b":71,"v":"B"},{"r":48,"a":73,"b":74,"v":"B"},{"r":48,"a":74,"b":76,"v":"R"},
{"r":49,"a":35,"b":42,"v":"B"},{"r":49,"a":43,"b":46,"v":"B"},{"r":49,"a":52,"b":53,"v":"B"},{"r":49,"a":54,"b":55,"v":"R"},{"r":49,"a":62,"b":63,"v":"B"},{"r":49,"a":64,"b":65,"v":"B"},{"r":49,"a":66,"b":68,"v":"B"},{"r":49,"a":70,"b":72,"v":"R"},{"r":49,"a":74,"b":75,"v":"B"},
{"r":50,"a":32,"b":33,"v":"R"},{"r":50,"a":38,"b":44,"v":"B"},{"r":50,"a":46,"b":47,"v":"B"},{"r":50,"a":48,"b":51,"v":"B"},{"r":50,"a":52,"b":53,"v":"B"},{"r":50,"a":60,"b":68,"v":"B"},{"r":50,"a":68,"b":70,"v":"R"},{"r":50,"a":72,"b":73,"v":"B"},{"r":50,"a":74,"b":76,"v":"B"},
{"r":51,"a":33,"b":34,"v":"R"},{"r":51,"a":36,"b":46,"v":"B"},{"r":51,"a":49,"b":50,"v":"R"},{"r":51,"a":50,"b":52,"v":"B"},{"r":51,"a":58,"b":64,"v":"B"},{"r":51,"a":66,"b":68,"v":"B"},{"r":51,"a":71,"b":72,"v":"B"},
{"r":52,"a":32,"b":34,"v":"R"},{"r":52,"a":35,"b":36,"v":"R"},{"r":52,"a":38,"b":39,"v":"B"},{"r":52,"a":42,"b":46,"v":"B"},{"r":52,"a":47,"b":48,"v":"B"},{"r":52,"a":54,"b":56,"v":"R"},{"r":52,"a":58,"b":60,"v":"R"},{"r":52,"a":61,"b":66,"v":"B"},{"r":52,"a":68,"b":72,"v":"R"},{"r":52,"a":73,"b":74,"v":"R"},{"r":52,"a":75,"b":76,"v":"B"},
{"r":53,"a":33,"b":35,"v":"R"},{"r":53,"a":41,"b":44,"v":"B"},{"r":53,"a":45,"b":47,"v":"B"},{"r":53,"a":50,"b":51,"v":"B"},{"r":53,"a":53,"b":54,"v":"B"},{"r":53,"a":54,"b":56,"v":"R"},{"r":53,"a":63,"b":64,"v":"B"},{"r":53,"a":65,"b":68,"v":"B"},{"r":53,"a":68,"b":72,"v":"R"},{"r":53,"a":73,"b":74,"v":"R"},
{"r":54,"a":38,"b":41,"v":"B"},{"r":54,"a":42,"b":44,"v":"B"},{"r":54,"a":52,"b":54,"v":"B"},{"r":54,"a":60,"b":63,"v":"B"},{"r":54,"a":65,"b":68,"v":"B"},{"r":54,"a":68,"b":70,"v":"R"},{"r":54,"a":71,"b":72,"v":"R"},{"r":54,"a":74,"b":76,"v":"B"},
{"r":55,"a":36,"b":37,"v":"B"},{"r":55,"a":38,"b":40,"v":"B"},{"r":55,"a":41,"b":42,"v":"B"},{"r":55,"a":43,"b":44,"v":"B"},{"r":55,"a":44,"b":48,"v":"R"},{"r":55,"a":50,"b":51,"v":"B"},{"r":55,"a":53,"b":54,"v":"B"},{"r":55,"a":55,"b":63,"v":"B"},{"r":55,"a":64,"b":65,"v":"R"},{"r":55,"a":66,"b":68,"v":"B"},{"r":55,"a":68,"b":70,"v":"R"},{"r":55,"a":74,"b":75,"v":"B"},
{"r":56,"a":37,"b":38,"v":"B"},{"r":56,"a":39,"b":42,"v":"B"},{"r":56,"a":43,"b":44,"v":"B"},{"r":56,"a":45,"b":46,"v":"B"},{"r":56,"a":50,"b":52,"v":"R"},{"r":56,"a":57,"b":58,"v":"B"},{"r":56,"a":59,"b":60,"v":"R"},{"r":56,"a":60,"b":62,"v":"B"},{"r":56,"a":65,"b":66,"v":"R"},{"r":56,"a":66,"b":70,"v":"B"},{"r":56,"a":70,"b":74,"v":"R"},{"r":56,"a":75,"b":76,"v":"R"},
{"r":57,"a":32,"b":37,"v":"R"},{"r":57,"a":38,"b":39,"v":"B"},{"r":57,"a":41,"b":49,"v":"B"},{"r":57,"a":50,"b":54,"v":"B"},{"r":57,"a":55,"b":56,"v":"R"},{"r":57,"a":58,"b":60,"v":"R"},{"r":57,"a":62,"b":64,"v":"B"},{"r":57,"a":68,"b":74,"v":"R"},
{"r":58,"a":33,"b":34,"v":"R"},{"r":58,"a":34,"b":42,"v":"B"},{"r":58,"a":45,"b":46,"v":"B"},{"r":58,"a":47,"b":48,"v":"R"},{"r":58,"a":48,"b":49,"v":"B"},{"r":58,"a":54,"b":59,"v":"R"},{"r":58,"a":62,"b":68,"v":"B"},{"r":58,"a":69,"b":70,"v":"B"},{"r":58,"a":73,"b":74,"v":"R"},{"r":58,"a":75,"b":76,"v":"R"},
{"r":59,"a":32,"b":33,"v":"R"},{"r":59,"a":38,"b":40,"v":"B"},{"r":59,"a":42,"b":44,"v":"B"},{"r":59,"a":46,"b":47,"v":"B"},{"r":59,"a":48,"b":49,"v":"B"},{"r":59,"a":53,"b":54,"v":"B"},{"r":59,"a":58,"b":59,"v":"B"},{"r":59,"a":60,"b":64,"v":"B"},{"r":59,"a":65,"b":66,"v":"B"},{"r":59,"a":67,"b":68,"v":"B"},{"r":59,"a":73,"b":74,"v":"R"},
{"r":0,"a":76,"b":77,"v":"R"},{"r":0,"a":78,"b":79,"v":"R"},{"r":0,"a":82,"b":83,"v":"R"},{"r":0,"a":84,"b":87,"v":"R"},{"r":0,"a":88,"b":89,"v":"B"},{"r":0,"a":89,"b":90,"v":"R"},{"r":0,"a":90,"b":91,"v":"B"},{"r":0,"a":92,"b":94,"v":"B"},{"r":0,"a":96,"b":97,"v":"B"},{"r":0,"a":102,"b":103,"v":"R"},{"r":0,"a":104,"b":106,"v":"R"},{"r":0,"a":107,"b":108,"v":"R"},{"r":0,"a":110,"b":112,"v":"B"},
{"r":1,"a":81,"b":82,"v":"B"},{"r":1,"a":82,"b":83,"v":"R"},{"r":1,"a":84,"b":85,"v":"R"},{"r":1,"a":93,"b":94,"v":"R"},{"r":1,"a":95,"b":96,"v":"R"},{"r":1,"a":106,"b":109,"v":"R"},{"r":1,"a":110,"b":112,"v":"B"},
{"r":2,"a":76,"b":77,"v":"R"},{"r":2,"a":78,"b":80,"v":"R"},{"r":2,"a":81,"b":85,"v":"R"},{"r":2,"a":88,"b":90,"v":"R"},{"r":2,"a":91,"b":92,"v":"R"},{"r":2,"a":94,"b":96,"v":"R"},{"r":2,"a":98,"b":99,"v":"R"},{"r":2,"a":101,"b":102,"v":"R"},{"r":2,"a":107,"b":109,"v":"R"},{"r":2,"a":111,"b":114,"v":"R"},
{"r":3,"a":79,"b":82,"v":"R"},{"r":3,"a":83,"b":91,"v":"R"},{"r":3,"a":93,"b":100,"v":"R"},{"r":3,"a":101,"b":105,"v":"R"},{"r":3,"a":105,"b":106,"v":"R"},{"r":3,"a":110,"b":113,"v":"R"},{"r":3,"a":113,"b":114,"v":"B"},
{"r":4,"a":80,"b":82,"v":"B"},{"r":4,"a":86,"b":88,"v":"B"},{"r":4,"a":89,"b":90,"v":"B"},{"r":4,"a":91,"b":92,"v":"B"},{"r":4,"a":93,"b":94,"v":"B"},{"r":4,"a":98,"b":99,"v":"B"},{"r":4,"a":101,"b":104,"v":"B"},{"r":4,"a":105,"b":106,"v":"B"},{"r":4,"a":106,"b":110,"v":"R"},
{"r":5,"a":76,"b":77,"v":"R"},{"r":5,"a":78,"b":84,"v":"R"},{"r":5,"a":88,"b":89,"v":"R"},{"r":5,"a":95,"b":97,"v":"R"},{"r":5,"a":97,"b":98,"v":"R"},{"r":5,"a":101,"b":103,"v":"R"},{"r":5,"a":107,"b":110,"v":"R"},{"r":5,"a":111,"b":113,"v":"R"},
{"r":6,"a":76,"b":81,"v":"R"},{"r":6,"a":82,"b":90,"v":"R"},{"r":6,"a":95,"b":98,"v":"R"},{"r":6,"a":98,"b":99,"v":"R"},{"r":6,"a":101,"b":102,"v":"R"},{"r":6,"a":106,"b":110,"v":"R"},{"r":6,"a":111,"b":113,"v":"R"},
{"r":7,"a":76,"b":86,"v":"R"},{"r":7,"a":88,"b":90,"v":"R"},{"r":7,"a":91,"b":92,"v":"R"},{"r":7,"a":95,"b":99,"v":"R"},{"r":7,"a":101,"b":103,"v":"R"},{"r":7,"a":107,"b":113,"v":"R"},
{"r":8,"a":78,"b":82,"v":"R"},{"r":8,"a":88,"b":90,"v":"R"},{"r":8,"a":93,"b":94,"v":"R"},{"r":8,"a":96,"b":97,"v":"R"},{"r":8,"a":98,"b":99,"v":"R"},{"r":8,"a":101,"b":102,"v":"B"},{"r":8,"a":104,"b":105,"v":"R"},{"r":8,"a":106,"b":111,"v":"R"},{"r":8,"a":111,"b":113,"v":"R"},
{"r":9,"a":76,"b":78,"v":"R"},{"r":9,"a":80,"b":83,"v":"R"},{"r":9,"a":88,"b":92,"v":"R"},{"r":9,"a":98,"b":99,"v":"R"},{"r":9,"a":100,"b":101,"v":"R"},{"r":9,"a":110,"b":111,"v":"R"},{"r":9,"a":111,"b":112,"v":"B"},{"r":9,"a":113,"b":114,"v":"R"},
{"r":10,"a":76,"b":79,"v":"R"},{"r":10,"a":80,"b":84,"v":"R"},{"r":10,"a":86,"b":87,"v":"B"},{"r":10,"a":88,"b":90,"v":"R"},{"r":10,"a":92,"b":94,"v":"B"},{"r":10,"a":97,"b":99,"v":"R"},{"r":10,"a":106,"b":107,"v":"B"},{"r":10,"a":107,"b":109,"v":"R"},{"r":10,"a":112,"b":113,"v":"R"},{"r":10,"a":113,"b":114,"v":"B"},
{"r":11,"a":78,"b":81,"v":"R"},{"r":11,"a":83,"b":84,"v":"R"},{"r":11,"a":85,"b":89,"v":"R"},{"r":11,"a":94,"b":98,"v":"R"},{"r":11,"a":98,"b":99,"v":"B"},{"r":11,"a":103,"b":105,"v":"B"},{"r":11,"a":106,"b":109,"v":"R"},{"r":11,"a":113,"b":114,"v":"B"},
{"r":12,"a":78,"b":79,"v":"R"},{"r":12,"a":80,"b":81,"v":"R"},{"r":12,"a":84,"b":86,"v":"B"},{"r":12,"a":87,"b":88,"v":"B"},{"r":12,"a":90,"b":91,"v":"B"},{"r":12,"a":94,"b":96,"v":"R"},{"r":12,"a":98,"b":102,"v":"B"},{"r":12,"a":107,"b":109,"v":"R"},{"r":12,"a":111,"b":113,"v":"B"},
{"r":13,"a":78,"b":79,"v":"R"},{"r":13,"a":82,"b":85,"v":"R"},{"r":13,"a":89,"b":90,"v":"R"},{"r":13,"a":91,"b":92,"v":"R"},{"r":13,"a":93,"b":96,"v":"R"},{"r":13,"a":100,"b":101,"v":"R"},{"r":13,"a":102,"b":103,"v":"R"},{"r":13,"a":104,"b":105,"v":"B"},{"r":13,"a":107,"b":108,"v":"R"},{"r":13,"a":111,"b":113,"v":"R"},
{"r":14,"a":76,"b":78,"v":"R"},{"r":14,"a":79,"b":80,"v":"R"},{"r":14,"a":80,"b":81,"v":"B"},{"r":14,"a":82,"b":83,"v":"R"},{"r":14,"a":86,"b":93,"v":"R"},{"r":14,"a":95,"b":97,"v":"R"},{"r":14,"a":98,"b":99,"v":"R"},{"r":14,"a":101,"b":102,"v":"R"},{"r":14,"a":103,"b":105,"v":"R"},{"r":14,"a":108,"b":114,"v":"R"},
{"r":15,"a":78,"b":80,"v":"R"},{"r":15,"a":81,"b":82,"v":"R"},{"r":15,"a":88,"b":92,"v":"R"},{"r":15,"a":95,"b":97,"v":"R"},{"r":15,"a":98,"b":99,"v":"R"},{"r":15,"a":100,"b":103,"v":"R"},{"r":15,"a":107,"b":112,"v":"R"},
{"r":16,"a":76,"b":78,"v":"R"},{"r":16,"a":86,"b":87,"v":"B"},{"r":16,"a":95,"b":96,"v":"B"},{"r":16,"a":100,"b":101,"v":"R"},{"r":16,"a":103,"b":106,"v":"R"},{"r":16,"a":112,"b":113,"v":"R"},
{"r":17,"a":76,"b":87,"v":"R"},{"r":17,"a":88,"b":90,"v":"R"},{"r":17,"a":91,"b":98,"v":"R"},{"r":17,"a":103,"b":104,"v":"R"},{"r":17,"a":106,"b":108,"v":"R"},{"r":17,"a":110,"b":111,"v":"R"},{"r":17,"a":113,"b":114,"v":"R"},
{"r":18,"a":76,"b":79,"v":"R"},{"r":18,"a":80,"b":81,"v":"R"},{"r":18,"a":84,"b":85,"v":"R"},{"r":18,"a":86,"b":88,"v":"R"},{"r":18,"a":89,"b":90,"v":"R"},{"r":18,"a":100,"b":101,"v":"R"},{"r":18,"a":102,"b":103,"v":"R"},{"r":18,"a":103,"b":106,"v":"R"},{"r":18,"a":108,"b":109,"v":"B"},{"r":18,"a":113,"b":114,"v":"R"},
{"r":19,"a":79,"b":80,"v":"R"},{"r":19,"a":90,"b":91,"v":"B"},{"r":19,"a":92,"b":93,"v":"R"},{"r":19,"a":94,"b":96,"v":"R"},{"r":19,"a":97,"b":98,"v":"R"},{"r":19,"a":100,"b":102,"v":"R"},{"r":19,"a":103,"b":104,"v":"R"},{"r":19,"a":105,"b":106,"v":"R"},{"r":19,"a":106,"b":109,"v":"R"},{"r":19,"a":112,"b":113,"v":"R"},{"r":19,"a":113,"b":114,"v":"B"},
{"r":20,"a":76,"b":78,"v":"R"},{"r":20,"a":84,"b":85,"v":"B"},{"r":20,"a":88,"b":92,"v":"R"},{"r":20,"a":100,"b":101,"v":"R"},{"r":20,"a":106,"b":107,"v":"B"},{"r":20,"a":107,"b":109,"v":"R"},
{"r":21,"a":76,"b":78,"v":"B"},{"r":21,"a":79,"b":80,"v":"R"},{"r":21,"a":80,"b":81,"v":"B"},{"r":21,"a":82,"b":87,"v":"R"},{"r":21,"a":87,"b":88,"v":"B"},{"r":21,"a":88,"b":90,"v":"R"},{"r":21,"a":91,"b":92,"v":"R"},{"r":21,"a":93,"b":100,"v":"R"},{"r":21,"a":100,"b":101,"v":"R"},{"r":21,"a":103,"b":105,"v":"R"},{"r":21,"a":107,"b":113,"v":"R"},
{"r":22,"a":76,"b":81,"v":"R"},{"r":22,"a":82,"b":87,"v":"R"},{"r":22,"a":88,"b":91,"v":"R"},{"r":22,"a":91,"b":92,"v":"R"},{"r":22,"a":94,"b":95,"v":"R"},{"r":22,"a":98,"b":99,"v":"R"},{"r":22,"a":107,"b":112,"v":"R"},
{"r":23,"a":78,"b":81,"v":"R"},{"r":23,"a":82,"b":83,"v":"R"},{"r":23,"a":84,"b":85,"v":"R"},{"r":23,"a":87,"b":88,"v":"R"},{"r":23,"a":91,"b":92,"v":"R"},{"r":23,"a":94,"b":100,"v":"R"},{"r":23,"a":101,"b":102,"v":"R"},{"r":23,"a":103,"b":107,"v":"R"},{"r":23,"a":107,"b":112,"v":"R"},{"r":23,"a":113,"b":114,"v":"R"},
{"r":24,"a":77,"b":78,"v":"B"},{"r":24,"a":80,"b":83,"v":"B"},{"r":24,"a":88,"b":90,"v":"B"},{"r":24,"a":90,"b":92,"v":"B"},{"r":24,"a":97,"b":98,"v":"B"},{"r":24,"a":99,"b":104,"v":"B"},{"r":24,"a":107,"b":108,"v":"R"},
{"r":25,"a":77,"b":78,"v":"R"},{"r":25,"a":78,"b":80,"v":"B"},{"r":25,"a":81,"b":82,"v":"B"},{"r":25,"a":83,"b":84,"v":"B"},{"r":25,"a":86,"b":87,"v":"R"},{"r":25,"a":88,"b":89,"v":"B"},{"r":25,"a":93,"b":94,"v":"B"},{"r":25,"a":95,"b":98,"v":"B"},{"r":25,"a":100,"b":103,"v":"B"},{"r":25,"a":108,"b":109,"v":"R"},
{"r":26,"a":78,"b":86,"v":"R"},{"r":26,"a":87,"b":89,"v":"R"},{"r":26,"a":90,"b":91,"v":"R"},{"r":26,"a":92,"b":98,"v":"R"},{"r":26,"a":103,"b":104,"v":"R"},{"r":26,"a":106,"b":107,"v":"R"},{"r":26,"a":108,"b":112,"v":"R"},
{"r":27,"a":78,"b":82,"v":"R"},{"r":27,"a":83,"b":84,"v":"R"},{"r":27,"a":86,"b":87,"v":"R"},{"r":27,"a":89,"b":90,"v":"R"},{"r":27,"a":92,"b":98,"v":"R"},{"r":27,"a":101,"b":102,"v":"B"},{"r":27,"a":103,"b":105,"v":"B"},{"r":27,"a":106,"b":110,"v":"R"},
{"r":28,"a":77,"b":80,"v":"R"},{"r":28,"a":82,"b":85,"v":"R"},{"r":28,"a":88,"b":89,"v":"R"},{"r":28,"a":92,"b":93,"v":"B"},{"r":28,"a":96,"b":97,"v":"R"},{"r":28,"a":103,"b":104,"v":"B"},{"r":28,"a":105,"b":106,"v":"B"},{"r":28,"a":106,"b":107,"v":"B"},{"r":28,"a":107,"b":110,"v":"R"},{"r":28,"a":113,"b":114,"v":"B"},
{"r":29,"a":76,"b":78,"v":"R"},{"r":29,"a":80,"b":82,"v":"B"},{"r":29,"a":84,"b":86,"v":"R"},{"r":29,"a":87,"b":88,"v":"R"},{"r":29,"a":91,"b":94,"v":"B"},{"r":29,"a":99,"b":102,"v":"B"},{"r":29,"a":102,"b":103,"v":"R"},{"r":29,"a":105,"b":106,"v":"R"},{"r":29,"a":106,"b":107,"v":"B"},{"r":29,"a":107,"b":108,"v":"R"},{"r":29,"a":110,"b":112,"v":"R"},{"r":29,"a":112,"b":114,"v":"R"},
{"r":30,"a":76,"b":77,"v":"R"},{"r":30,"a":78,"b":79,"v":"R"},{"r":30,"a":80,"b":86,"v":"B"},{"r":30,"a":86,"b":87,"v":"R"},{"r":30,"a":87,"b":88,"v":"B"},{"r":30,"a":91,"b":93,"v":"R"},{"r":30,"a":93,"b":94,"v":"B"},{"r":30,"a":97,"b":98,"v":"R"},{"r":30,"a":105,"b":106,"v":"R"},{"r":30,"a":107,"b":109,"v":"R"},
{"r":31,"a":76,"b":79,"v":"R"},{"r":31,"a":80,"b":81,"v":"B"},{"r":31,"a":82,"b":84,"v":"R"},{"r":31,"a":86,"b":88,"v":"R"},{"r":31,"a":103,"b":105,"v":"B"},{"r":31,"a":105,"b":106,"v":"R"},{"r":31,"a":113,"b":114,"v":"B"},
{"r":32,"a":82,"b":84,"v":"R"},{"r":32,"a":86,"b":87,"v":"R"},{"r":32,"a":92,"b":93,"v":"R"},{"r":32,"a":94,"b":96,"v":"R"},
{"r":33,"a":76,"b":79,"v":"R"},{"r":33,"a":82,"b":83,"v":"R"},{"r":33,"a":84,"b":86,"v":"R"},{"r":33,"a":90,"b":92,"v":"R"},{"r":33,"a":92,"b":94,"v":"B"},{"r":33,"a":95,"b":97,"v":"B"},{"r":33,"a":107,"b":109,"v":"R"},{"r":33,"a":110,"b":111,"v":"B"},{"r":33,"a":112,"b":113,"v":"R"},
{"r":34,"a":76,"b":78,"v":"R"},{"r":34,"a":85,"b":86,"v":"R"},{"r":34,"a":88,"b":89,"v":"B"},{"r":34,"a":96,"b":97,"v":"B"},{"r":34,"a":100,"b":101,"v":"B"},{"r":34,"a":102,"b":105,"v":"R"},{"r":34,"a":107,"b":110,"v":"R"},{"r":34,"a":113,"b":114,"v":"R"},
{"r":35,"a":76,"b":80,"v":"R"},{"r":35,"a":86,"b":88,"v":"B"},{"r":35,"a":96,"b":100,"v":"R"},{"r":35,"a":108,"b":112,"v":"R"},{"r":35,"a":113,"b":114,"v":"R"},
{"r":36,"a":77,"b":79,"v":"R"},{"r":36,"a":86,"b":88,"v":"B"},{"r":36,"a":93,"b":100,"v":"B"},{"r":36,"a":105,"b":106,"v":"B"},{"r":36,"a":106,"b":107,"v":"R"},{"r":36,"a":112,"b":113,"v":"B"},{"r":36,"a":113,"b":114,"v":"R"},
{"r":37,"a":79,"b":80,"v":"B"},{"r":37,"a":81,"b":83,"v":"B"},{"r":37,"a":85,"b":86,"v":"R"},{"r":37,"a":88,"b":89,"v":"B"},{"r":37,"a":90,"b":91,"v":"B"},{"r":37,"a":96,"b":99,"v":"B"},{"r":37,"a":101,"b":102,"v":"B"},{"r":37,"a":103,"b":105,"v":"B"},{"r":37,"a":106,"b":107,"v":"B"},{"r":37,"a":107,"b":109,"v":"R"},{"r":37,"a":109,"b":114,"v":"B"},
{"r":38,"a":78,"b":80,"v":"R"},{"r":38,"a":80,"b":81,"v":"B"},{"r":38,"a":83,"b":84,"v":"R"},{"r":38,"a":91,"b":92,"v":"B"},{"r":38,"a":94,"b":98,"v":"B"},{"r":38,"a":100,"b":101,"v":"B"},{"r":38,"a":102,"b":103,"v":"B"},{"r":38,"a":105,"b":107,"v":"B"},{"r":38,"a":107,"b":109,"v":"R"},{"r":38,"a":110,"b":111,"v":"B"},
{"r":39,"a":76,"b":81,"v":"R"},{"r":39,"a":83,"b":84,"v":"B"},{"r":39,"a":86,"b":88,"v":"R"},{"r":39,"a":88,"b":92,"v":"B"},{"r":39,"a":92,"b":94,"v":"R"},{"r":39,"a":98,"b":102,"v":"B"},{"r":39,"a":104,"b":106,"v":"B"},{"r":39,"a":106,"b":108,"v":"R"},{"r":39,"a":108,"b":109,"v":"B"},{"r":39,"a":113,"b":114,"v":"B"},
{"r":40,"a":78,"b":80,"v":"R"},{"r":40,"a":83,"b":86,"v":"R"},{"r":40,"a":90,"b":91,"v":"B"},{"r":40,"a":103,"b":105,"v":"R"},{"r":40,"a":106,"b":108,"v":"R"},{"r":40,"a":109,"b":110,"v":"R"},{"r":40,"a":112,"b":113,"v":"R"},
{"r":41,"a":76,"b":78,"v":"R"},{"r":41,"a":80,"b":88,"v":"B"},{"r":41,"a":93,"b":94,"v":"B"},{"r":41,"a":103,"b":104,"v":"B"},{"r":41,"a":105,"b":106,"v":"R"},{"r":41,"a":107,"b":110,"v":"R"},{"r":41,"a":112,"b":113,"v":"R"},
{"r":42,"a":76,"b":77,"v":"R"},{"r":42,"a":78,"b":79,"v":"R"},{"r":42,"a":84,"b":91,"v":"R"},{"r":42,"a":93,"b":94,"v":"R"},{"r":42,"a":95,"b":96,"v":"R"},{"r":42,"a":97,"b":112,"v":"R"},
{"r":43,"a":76,"b":86,"v":"R"},{"r":43,"a":88,"b":89,"v":"R"},{"r":43,"a":99,"b":101,"v":"B"},{"r":43,"a":103,"b":104,"v":"R"},{"r":43,"a":107,"b":109,"v":"R"},{"r":43,"a":112,"b":113,"v":"R"},
{"r":44,"a":76,"b":78,"v":"R"},{"r":44,"a":79,"b":80,"v":"R"},{"r":44,"a":83,"b":84,"v":"R"},{"r":44,"a":88,"b":89,"v":"R"},{"r":44,"a":96,"b":97,"v":"R"},{"r":44,"a":105,"b":106,"v":"B"},{"r":44,"a":106,"b":109,"v":"R"},{"r":44,"a":109,"b":114,"v":"R"},
{"r":45,"a":78,"b":84,"v":"R"},{"r":45,"a":87,"b":88,"v":"B"},{"r":45,"a":96,"b":98,"v":"B"},{"r":45,"a":103,"b":105,"v":"R"},{"r":45,"a":107,"b":109,"v":"R"},
{"r":46,"a":76,"b":78,"v":"R"},{"r":46,"a":86,"b":87,"v":"R"},{"r":46,"a":92,"b":93,"v":"B"},{"r":46,"a":94,"b":98,"v":"B"},{"r":46,"a":105,"b":107,"v":"B"},{"r":46,"a":110,"b":111,"v":"B"},
{"r":47,"a":76,"b":78,"v":"R"},{"r":47,"a":89,"b":90,"v":"R"},{"r":47,"a":91,"b":92,"v":"R"},{"r":47,"a":93,"b":94,"v":"B"},{"r":47,"a":97,"b":98,"v":"R"},{"r":47,"a":99,"b":100,"v":"R"},{"r":47,"a":100,"b":101,"v":"B"},{"r":47,"a":103,"b":104,"v":"R"},{"r":47,"a":105,"b":106,"v":"R"},{"r":47,"a":106,"b":107,"v":"B"},{"r":47,"a":108,"b":113,"v":"R"},
{"r":48,"a":78,"b":83,"v":"R"},{"r":48,"a":90,"b":92,"v":"R"},{"r":48,"a":95,"b":98,"v":"B"},{"r":48,"a":98,"b":99,"v":"R"},{"r":48,"a":102,"b":103,"v":"R"},{"r":48,"a":105,"b":106,"v":"B"},{"r":48,"a":106,"b":107,"v":"R"},{"r":48,"a":109,"b":111,"v":"B"},{"r":48,"a":113,"b":114,"v":"R"},
{"r":49,"a":76,"b":78,"v":"R"},{"r":49,"a":82,"b":87,"v":"R"},{"r":49,"a":89,"b":93,"v":"R"},{"r":49,"a":95,"b":96,"v":"R"},{"r":49,"a":97,"b":98,"v":"B"},{"r":49,"a":102,"b":106,"v":"R"},{"r":49,"a":107,"b":111,"v":"R"},{"r":49,"a":112,"b":113,"v":"R"},
{"r":50,"a":76,"b":78,"v":"R"},{"r":50,"a":79,"b":80,"v":"R"},{"r":50,"a":84,"b":85,"v":"R"},{"r":50,"a":89,"b":90,"v":"R"},{"r":50,"a":105,"b":106,"v":"R"},{"r":50,"a":107,"b":111,"v":"R"},
{"r":51,"a":78,"b":82,"v":"B"},{"r":51,"a":88,"b":93,"v":"B"},{"r":51,"a":94,"b":105,"v":"B"},{"r":51,"a":109,"b":114,"v":"B"},
{"r":52,"a":76,"b":79,"v":"R"},{"r":52,"a":82,"b":83,"v":"B"},{"r":52,"a":84,"b":86,"v":"R"},{"r":52,"a":89,"b":90,"v":"R"},{"r":52,"a":95,"b":96,"v":"R"},{"r":52,"a":102,"b":105,"v":"R"},{"r":52,"a":107,"b":108,"v":"R"},{"r":52,"a":109,"b":110,"v":"R"},{"r":52,"a":111,"b":114,"v":"R"},
{"r":53,"a":76,"b":78,"v":"R"},{"r":53,"a":79,"b":80,"v":"R"},{"r":53,"a":80,"b":81,"v":"B"},{"r":53,"a":83,"b":84,"v":"R"},{"r":53,"a":98,"b":99,"v":"B"},{"r":53,"a":104,"b":105,"v":"B"},{"r":53,"a":106,"b":107,"v":"B"},{"r":53,"a":112,"b":113,"v":"B"},
{"r":54,"a":76,"b":79,"v":"R"},{"r":54,"a":83,"b":84,"v":"R"},{"r":54,"a":86,"b":87,"v":"B"},{"r":54,"a":92,"b":93,"v":"B"},{"r":54,"a":98,"b":99,"v":"B"},{"r":54,"a":99,"b":100,"v":"R"},{"r":54,"a":104,"b":105,"v":"B"},{"r":54,"a":107,"b":112,"v":"R"},
{"r":55,"a":78,"b":79,"v":"B"},{"r":55,"a":82,"b":84,"v":"B"},{"r":55,"a":87,"b":88,"v":"B"},{"r":55,"a":92,"b":93,"v":"R"},{"r":55,"a":94,"b":98,"v":"B"},{"r":55,"a":107,"b":108,"v":"R"},{"r":55,"a":108,"b":109,"v":"B"},{"r":55,"a":111,"b":113,"v":"B"},
{"r":56,"a":76,"b":78,"v":"R"},{"r":56,"a":80,"b":82,"v":"B"},{"r":56,"a":87,"b":92,"v":"R"},{"r":56,"a":92,"b":94,"v":"B"},{"r":56,"a":97,"b":98,"v":"R"},{"r":56,"a":100,"b":101,"v":"B"},{"r":56,"a":103,"b":105,"v":"B"},{"r":56,"a":106,"b":107,"v":"B"},{"r":56,"a":111,"b":112,"v":"R"},
{"r":57,"a":78,"b":80,"v":"R"},{"r":57,"a":86,"b":88,"v":"B"},{"r":57,"a":89,"b":90,"v":"R"},{"r":57,"a":92,"b":94,"v":"R"},{"r":57,"a":96,"b":98,"v":"R"},{"r":57,"a":106,"b":112,"v":"R"},
{"r":58,"a":76,"b":77,"v":"R"},{"r":58,"a":78,"b":79,"v":"R"},{"r":58,"a":90,"b":91,"v":"R"},{"r":58,"a":92,"b":93,"v":"B"},{"r":58,"a":94,"b":96,"v":"R"},{"r":58,"a":97,"b":98,"v":"R"},{"r":58,"a":107,"b":112,"v":"R"},
{"r":59,"a":76,"b":79,"v":"R"},{"r":59,"a":84,"b":86,"v":"R"},{"r":59,"a":87,"b":93,"v":"B"},{"r":59,"a":94,"b":95,"v":"B"},{"r":59,"a":96,"b":97,"v":"B"},{"r":59,"a":98,"b":105,"v":"B"},{"r":59,"a":108,"b":109,"v":"R"},{"r":59,"a":113,"b":114,"v":"R"}
],
"B":[
{"r":0,"a":0,"b":1,"v":"B"},{"r":0,"a":3,"b":4,"v":"B"},{"r":0,"a":7,"b":8,"v":"B"},{"r":0,"a":8,"b":12,"v":"R"},{"r":0,"a":18,"b":19,"v":"R"},{"r":0,"a":22,"b":26,"v":"R"},{"r":0,"a":28,"b":30,"v":"R"},
{"r":1,"a":1,"b":8,"v":"R"},{"r":1,"a":9,"b":10,"v":"R"},{"r":1,"a":12,"b":14,"v":"R"},{"r":1,"a":17,"b":18,"v":"R"},{"r":1,"a":19,"b":20,"v":"R"},{"r":1,"a":21,"b":22,"v":"B"},{"r":1,"a":26,"b":28,"v":"R"},{"r":1,"a":29,"b":30,"v":"B"},
{"r":2,"a":5,"b":6,"v":"R"},{"r":2,"a":7,"b":8,"v":"R"},{"r":2,"a":13,"b":14,"v":"R"},{"r":2,"a":17,"b":18,"v":"R"},{"r":2,"a":24,"b":29,"v":"B"},{"r":2,"a":30,"b":31,"v":"B"},
{"r":3,"a":5,"b":12,"v":"R"},{"r":3,"a":13,"b":14,"v":"R"},{"r":3,"a":15,"b":16,"v":"B"},{"r":3,"a":16,"b":19,"v":"R"},{"r":3,"a":22,"b":25,"v":"R"},{"r":3,"a":29,"b":31,"v":"R"},
{"r":4,"a":0,"b":4,"v":"B"},{"r":4,"a":6,"b":7,"v":"B"},{"r":4,"a":12,"b":22,"v":"B"},{"r":4,"a":24,"b":25,"v":"B"},{"r":4,"a":28,"b":29,"v":"B"},
{"r":5,"a":0,"b":2,"v":"B"},{"r":5,"a":6,"b":8,"v":"R"},{"r":5,"a":10,"b":12,"v":"R"},{"r":5,"a":13,"b":14,"v":"R"},{"r":5,"a":28,"b":29,"v":"B"},{"r":5,"a":30,"b":31,"v":"B"},
{"r":6,"a":0,"b":1,"v":"B"},{"r":6,"a":1,"b":2,"v":"R"},{"r":6,"a":4,"b":5,"v":"B"},{"r":6,"a":6,"b":7,"v":"B"},{"r":6,"a":7,"b":8,"v":"R"},{"r":6,"a":9,"b":10,"v":"R"},{"r":6,"a":11,"b":12,"v":"R"},{"r":6,"a":13,"b":16,"v":"R"},{"r":6,"a":17,"b":26,"v":"R"},{"r":6,"a":27,"b":31,"v":"R"},
{"r":7,"a":2,"b":3,"v":"B"},{"r":7,"a":10,"b":11,"v":"B"},{"r":7,"a":13,"b":14,"v":"R"},{"r":7,"a":15,"b":19,"v":"R"},{"r":7,"a":19,"b":20,"v":"R"},{"r":7,"a":26,"b":27,"v":"R"},{"r":7,"a":30,"b":31,"v":"R"},
{"r":8,"a":1,"b":2,"v":"R"},{"r":8,"a":5,"b":6,"v":"R"},{"r":8,"a":13,"b":14,"v":"R"},{"r":8,"a":16,"b":18,"v":"R"},{"r":8,"a":28,"b":29,"v":"B"},
{"r":9,"a":3,"b":4,"v":"B"},{"r":9,"a":8,"b":10,"v":"R"},{"r":9,"a":11,"b":12,"v":"R"},{"r":9,"a":12,"b":14,"v":"B"},{"r":9,"a":15,"b":20,"v":"B"},{"r":9,"a":21,"b":22,"v":"B"},{"r":9,"a":23,"b":24,"v":"B"},
{"r":10,"a":4,"b":5,"v":"B"},{"r":10,"a":9,"b":10,"v":"R"},{"r":10,"a":11,"b":12,"v":"R"},{"r":10,"a":13,"b":14,"v":"R"},{"r":10,"a":15,"b":20,"v":"R"},{"r":10,"a":22,"b":27,"v":"R"},{"r":10,"a":28,"b":30,"v":"R"},{"r":10,"a":30,"b":31,"v":"B"},
{"r":11,"a":1,"b":2,"v":"R"},{"r":11,"a":3,"b":4,"v":"R"},{"r":11,"a":5,"b":6,"v":"R"},{"r":11,"a":7,"b":8,"v":"R"},{"r":11,"a":9,"b":10,"v":"R"},{"r":11,"a":11,"b":12,"v":"R"},{"r":11,"a":13,"b":14,"v":"R"},{"r":11,"a":17,"b":20,"v":"R"},{"r":11,"a":22,"b":24,"v":"R"},{"r":11,"a":24,"b":25,"v":"B"},{"r":11,"a":25,"b":26,"v":"R"},{"r":11,"a":26,"b":27,"v":"B"},{"r":11,"a":27,"b":33,"v":"R"},
{"r":12,"a":2,"b":4,"v":"B"},{"r":12,"a":12,"b":13,"v":"B"},{"r":12,"a":18,"b":20,"v":"R"},{"r":12,"a":22,"b":23,"v":"B"},{"r":12,"a":27,"b":28,"v":"B"},
{"r":13,"a":0,"b":1,"v":"B"},{"r":13,"a":3,"b":6,"v":"R"},{"r":13,"a":9,"b":12,"v":"R"},{"r":13,"a":13,"b":14,"v":"R"},{"r":13,"a":16,"b":17,"v":"B"},{"r":13,"a":18,"b":22,"v":"B"},{"r":13,"a":24,"b":25,"v":"R"},{"r":13,"a":26,"b":28,"v":"R"},
{"r":14,"a":2,"b":3,"v":"B"},{"r":14,"a":4,"b":5,"v":"B"},{"r":14,"a":6,"b":7,"v":"B"},{"r":14,"a":8,"b":9,"v":"B"},{"r":14,"a":10,"b":11,"v":"B"},{"r":14,"a":12,"b":14,"v":"B"},{"r":14,"a":16,"b":17,"v":"B"},{"r":14,"a":26,"b":27,"v":"B"},{"r":14,"a":31,"b":32,"v":"B"},
{"r":15,"a":2,"b":3,"v":"B"},{"r":15,"a":8,"b":12,"v":"R"},{"r":15,"a":22,"b":24,"v":"R"},
{"r":16,"a":0,"b":1,"v":"B"},{"r":16,"a":2,"b":3,"v":"B"},{"r":16,"a":4,"b":5,"v":"B"},{"r":16,"a":6,"b":8,"v":"B"},{"r":16,"a":12,"b":14,"v":"B"},{"r":16,"a":16,"b":17,"v":"B"},{"r":16,"a":20,"b":21,"v":"B"},{"r":16,"a":24,"b":25,"v":"B"},{"r":16,"a":26,"b":31,"v":"B"},
{"r":17,"a":5,"b":6,"v":"R"},{"r":17,"a":7,"b":8,"v":"R"},{"r":17,"a":9,"b":10,"v":"R"},{"r":17,"a":11,"b":12,"v":"R"},{"r":17,"a":15,"b":16,"v":"R"},{"r":17,"a":20,"b":22,"v":"B"},{"r":17,"a":29,"b":30,"v":"B"},
{"r":18,"a":0,"b":1,"v":"R"},{"r":18,"a":2,"b":3,"v":"B"},{"r":18,"a":6,"b":7,"v":"B"},{"r":18,"a":10,"b":11,"v":"R"},{"r":18,"a":12,"b":13,"v":"B"},{"r":18,"a":22,"b":24,"v":"B"},{"r":18,"a":25,"b":26,"v":"B"},{"r":18,"a":28,"b":30,"v":"B"},
{"r":19,"a":0,"b":3,"v":"R"},{"r":19,"a":5,"b":6,"v":"R"},{"r":19,"a":11,"b":12,"v":"R"},{"r":19,"a":14,"b":17,"v":"B"},{"r":19,"a":18,"b":19,"v":"R"},{"r":19,"a":21,"b":24,"v":"B"},{"r":19,"a":29,"b":32,"v":"B"},
{"r":20,"a":1,"b":2,"v":"R"},{"r":20,"a":3,"b":4,"v":"R"},{"r":20,"a":4,"b":5,"v":"B"},{"r":20,"a":5,"b":6,"v":"R"},{"r":20,"a":7,"b":8,"v":"R"},{"r":20,"a":9,"b":10,"v":"R"},{"r":20,"a":12,"b":13,"v":"B"},{"r":20,"a":17,"b":18,"v":"R"},{"r":20,"a":22,"b":23,"v":"R"},{"r":20,"a":25,"b":26,"v":"R"},{"r":20,"a":28,"b":30,"v":"R"},
{"r":21,"a":2,"b":3,"v":"B"},{"r":21,"a":6,"b":7,"v":"B"},{"r":21,"a":9,"b":12,"v":"R"},{"r":21,"a":16,"b":18,"v":"R"},{"r":21,"a":22,"b":23,"v":"R"},{"r":21,"a":28,"b":29,"v":"R"},
{"r":22,"a":1,"b":2,"v":"R"},{"r":22,"a":14,"b":16,"v":"R"},{"r":22,"a":21,"b":22,"v":"B"},{"r":22,"a":22,"b":23,"v":"R"},{"r":22,"a":24,"b":25,"v":"B"},{"r":22,"a":28,"b":30,"v":"B"},{"r":22,"a":31,"b":32,"v":"B"},
{"r":23,"a":1,"b":2,"v":"B"},{"r":23,"a":7,"b":8,"v":"B"},{"r":23,"a":8,"b":11,"v":"R"},{"r":23,"a":17,"b":18,"v":"B"},{"r":23,"a":26,"b":28,"v":"R"},{"r":23,"a":28,"b":29,"v":"B"},
{"r":24,"a":0,"b":1,"v":"B"},{"r":24,"a":2,"b":3,"v":"B"},{"r":24,"a":3,"b":4,"v":"R"},{"r":24,"a":6,"b":7,"v":"B"},{"r":24,"a":8,"b":11,"v":"B"},{"r":24,"a":12,"b":13,"v":"B"},{"r":24,"a":16,"b":17,"v":"B"},{"r":24,"a":19,"b":20,"v":"R"},{"r":24,"a":20,"b":22,"v":"B"},{"r":24,"a":24,"b":25,"v":"B"},
{"r":25,"a":0,"b":1,"v":"R"},{"r":25,"a":2,"b":3,"v":"R"},{"r":25,"a":4,"b":10,"v":"R"},{"r":25,"a":11,"b":12,"v":"R"},{"r":25,"a":15,"b":16,"v":"B"},{"r":25,"a":18,"b":20,"v":"B"},{"r":25,"a":21,"b":22,"v":"B"},{"r":25,"a":27,"b":28,"v":"B"},{"r":25,"a":29,"b":30,"v":"B"},{"r":25,"a":31,"b":32,"v":"B"},
{"r":26,"a":0,"b":1,"v":"B"},{"r":26,"a":2,"b":8,"v":"B"},{"r":26,"a":13,"b":15,"v":"R"},{"r":26,"a":20,"b":21,"v":"R"},{"r":26,"a":27,"b":28,"v":"R"},
{"r":27,"a":4,"b":5,"v":"B"},{"r":27,"a":9,"b":10,"v":"R"},{"r":27,"a":11,"b":12,"v":"R"},{"r":27,"a":16,"b":17,"v":"B"},{"r":27,"a":20,"b":22,"v":"R"},{"r":27,"a":24,"b":25,"v":"R"},{"r":27,"a":26,"b":27,"v":"B"},{"r":27,"a":31,"b":32,"v":"R"},
{"r":28,"a":0,"b":1,"v":"B"},{"r":28,"a":4,"b":8,"v":"B"},{"r":28,"a":10,"b":14,"v":"B"},{"r":28,"a":15,"b":16,"v":"R"},{"r":28,"a":16,"b":19,"v":"B"},{"r":28,"a":20,"b":21,"v":"B"},{"r":28,"a":22,"b":26,"v":"B"},{"r":28,"a":28,"b":30,"v":"B"},
{"r":29,"a":2,"b":14,"v":"B"},{"r":29,"a":22,"b":27,"v":"B"},{"r":29,"a":28,"b":32,"v":"B"},
{"r":30,"a":0,"b":1,"v":"B"},{"r":30,"a":3,"b":5,"v":"B"},{"r":30,"a":10,"b":11,"v":"B"},{"r":30,"a":13,"b":14,"v":"B"},{"r":30,"a":15,"b":16,"v":"B"},{"r":30,"a":17,"b":18,"v":"R"},{"r":30,"a":18,"b":22,"v":"B"},{"r":30,"a":25,"b":26,"v":"R"},{"r":30,"a":30,"b":32,"v":"R"},
{"r":31,"a":0,"b":1,"v":"B"},{"r":31,"a":4,"b":5,"v":"B"},{"r":31,"a":6,"b":7,"v":"B"},{"r":31,"a":9,"b":10,"v":"R"},{"r":31,"a":11,"b":12,"v":"R"},{"r":31,"a":12,"b":13,"v":"B"},{"r":31,"a":21,"b":24,"v":"R"},{"r":31,"a":27,"b":28,"v":"B"},{"r":31,"a":31,"b":32,"v":"B"},
{"r":32,"a":1,"b":2,"v":"R"},{"r":32,"a":4,"b":5,"v":"B"},{"r":32,"a":6,"b":7,"v":"B"},{"r":32,"a":9,"b":10,"v":"B"},{"r":32,"a":11,"b":12,"v":"R"},{"r":32,"a":13,"b":16,"v":"R"},{"r":32,"a":19,"b":20,"v":"R"},{"r":32,"a":21,"b":26,"v":"R"},{"r":32,"a":27,"b":31,"v":"R"},
{"r":33,"a":0,"b":1,"v":"B"},{"r":33,"a":8,"b":9,"v":"R"},{"r":33,"a":11,"b":14,"v":"R"},{"r":33,"a":17,"b":18,"v":"R"},{"r":33,"a":25,"b":26,"v":"B"},{"r":33,"a":29,"b":30,"v":"B"},
{"r":34,"a":1,"b":2,"v":"R"},{"r":34,"a":6,"b":9,"v":"B"},{"r":34,"a":10,"b":13,"v":"B"},{"r":34,"a":22,"b":23,"v":"B"},{"r":34,"a":28,"b":30,"v":"B"},{"r":34,"a":31,"b":32,"v":"B"},
{"r":35,"a":2,"b":3,"v":"B"},{"r":35,"a":4,"b":5,"v":"B"},{"r":35,"a":6,"b":7,"v":"B"},{"r":35,"a":8,"b":9,"v":"B"},{"r":35,"a":10,"b":11,"v":"B"},{"r":35,"a":11,"b":12,"v":"R"},{"r":35,"a":12,"b":13,"v":"B"},{"r":35,"a":22,"b":24,"v":"R"},{"r":35,"a":28,"b":31,"v":"R"},
{"r":36,"a":2,"b":5,"v":"R"},{"r":36,"a":7,"b":9,"v":"R"},{"r":36,"a":27,"b":28,"v":"B"},
{"r":37,"a":1,"b":2,"v":"B"},{"r":37,"a":3,"b":6,"v":"B"},{"r":37,"a":7,"b":12,"v":"B"},{"r":37,"a":13,"b":15,"v":"B"},{"r":37,"a":17,"b":18,"v":"B"},{"r":37,"a":23,"b":24,"v":"B"},{"r":37,"a":25,"b":26,"v":"B"},{"r":37,"a":29,"b":30,"v":"B"},{"r":37,"a":30,"b":32,"v":"R"},
{"r":38,"a":0,"b":2,"v":"B"},{"r":38,"a":20,"b":22,"v":"B"},{"r":38,"a":24,"b":29,"v":"B"},
{"r":39,"a":0,"b":1,"v":"B"},{"r":39,"a":4,"b":5,"v":"B"},{"r":39,"a":10,"b":11,"v":"B"},{"r":39,"a":12,"b":14,"v":"B"},{"r":39,"a":16,"b":17,"v":"B"},{"r":39,"a":18,"b":24,"v":"B"},{"r":39,"a":27,"b":28,"v":"R"},
{"r":40,"a":1,"b":2,"v":"R"},{"r":40,"a":2,"b":3,"v":"B"},{"r":40,"a":5,"b":6,"v":"R"},{"r":40,"a":7,"b":8,"v":"R"},{"r":40,"a":15,"b":16,"v":"R"},{"r":40,"a":18,"b":19,"v":"B"},{"r":40,"a":20,"b":21,"v":"B"},{"r":40,"a":24,"b":25,"v":"B"},{"r":40,"a":28,"b":30,"v":"B"},
{"r":41,"a":1,"b":2,"v":"R"},{"r":41,"a":4,"b":6,"v":"R"},{"r":41,"a":11,"b":12,"v":"R"},{"r":41,"a":18,"b":19,"v":"B"},{"r":41,"a":20,"b":21,"v":"B"},{"r":41,"a":22,"b":23,"v":"B"},{"r":41,"a":25,"b":27,"v":"R"},{"r":41,"a":31,"b":32,"v":"R"},
{"r":42,"a":1,"b":2,"v":"R"},{"r":42,"a":2,"b":4,"v":"B"},{"r":42,"a":5,"b":6,"v":"R"},{"r":42,"a":9,"b":10,"v":"R"},{"r":42,"a":17,"b":18,"v":"R"},{"r":42,"a":22,"b":24,"v":"R"},{"r":42,"a":27,"b":28,"v":"R"},
{"r":43,"a":0,"b":1,"v":"B"},{"r":43,"a":2,"b":3,"v":"B"},{"r":43,"a":4,"b":8,"v":"B"},{"r":43,"a":19,"b":20,"v":"R"},{"r":43,"a":23,"b":24,"v":"R"},{"r":43,"a":24,"b":25,"v":"B"},{"r":43,"a":26,"b":27,"v":"B"},{"r":43,"a":31,"b":33,"v":"R"},
{"r":44,"a":7,"b":9,"v":"R"},{"r":44,"a":11,"b":12,"v":"R"},{"r":44,"a":16,"b":17,"v":"B"},{"r":44,"a":29,"b":31,"v":"B"},{"r":44,"a":32,"b":33,"v":"R"},
{"r":45,"a":0,"b":1,"v":"B"},{"r":45,"a":4,"b":5,"v":"B"},{"r":45,"a":6,"b":7,"v":"B"},{"r":45,"a":10,"b":11,"v":"B"},{"r":45,"a":12,"b":13,"v":"B"},{"r":45,"a":16,"b":17,"v":"B"},{"r":45,"a":18,"b":19,"v":"B"},{"r":45,"a":20,"b":22,"v":"B"},{"r":45,"a":22,"b":23,"v":"R"},{"r":45,"a":24,"b":27,"v":"B"},{"r":45,"a":29,"b":32,"v":"B"},{"r":45,"a":32,"b":33,"v":"R"},
{"r":46,"a":0,"b":1,"v":"B"},{"r":46,"a":2,"b":3,"v":"B"},{"r":46,"a":4,"b":5,"v":"B"},{"r":46,"a":6,"b":7,"v":"B"},{"r":46,"a":8,"b":9,"v":"B"},{"r":46,"a":10,"b":11,"v":"B"},{"r":46,"a":12,"b":13,"v":"B"},{"r":46,"a":14,"b":15,"v":"B"},{"r":46,"a":16,"b":17,"v":"B"},{"r":46,"a":18,"b":22,"v":"B"},{"r":46,"a":24,"b":29,"v":"B"},{"r":46,"a":30,"b":31,"v":"B"},
{"r":47,"a":1,"b":4,"v":"B"},{"r":47,"a":6,"b":8,"v":"B"},{"r":47,"a":12,"b":15,"v":"B"},{"r":47,"a":17,"b":20,"v":"B"},{"r":47,"a":21,"b":22,"v":"B"},{"r":47,"a":27,"b":28,"v":"R"},
{"r":48,"a":8,"b":11,"v":"R"},{"r":48,"a":18,"b":20,"v":"R"},{"r":48,"a":24,"b":25,"v":"R"},{"r":48,"a":29,"b":33,"v":"R"},
{"r":49,"a":1,"b":2,"v":"R"},{"r":49,"a":2,"b":3,"v":"B"},{"r":49,"a":5,"b":6,"v":"R"},{"r":49,"a":7,"b":8,"v":"R"},{"r":49,"a":9,"b":10,"v":"B"},{"r":49,"a":12,"b":13,"v":"B"},{"r":49,"a":18,"b":26,"v":"B"},{"r":49,"a":27,"b":28,"v":"R"},{"r":49,"a":28,"b":30,"v":"B"},
{"r":50,"a":0,"b":3,"v":"B"},{"r":50,"a":4,"b":5,"v":"B"},{"r":50,"a":6,"b":7,"v":"B"},{"r":50,"a":8,"b":9,"v":"B"},{"r":50,"a":10,"b":11,"v":"B"},{"r":50,"a":12,"b":14,"v":"B"},{"r":50,"a":16,"b":22,"v":"B"},{"r":50,"a":24,"b":26,"v":"B"},{"r":50,"a":28,"b":32,"v":"B"},{"r":50,"a":32,"b":33,"v":"R"},
{"r":51,"a":0,"b":3,"v":"B"},{"r":51,"a":4,"b":6,"v":"B"},{"r":51,"a":8,"b":14,"v":"B"},{"r":51,"a":16,"b":19,"v":"B"},{"r":51,"a":20,"b":21,"v":"B"},{"r":51,"a":24,"b":25,"v":"B"},
{"r":52,"a":1,"b":2,"v":"R"},{"r":52,"a":2,"b":3,"v":"B"},{"r":52,"a":6,"b":7,"v":"B"},{"r":52,"a":10,"b":11,"v":"B"},{"r":52,"a":12,"b":13,"v":"B"},{"r":52,"a":13,"b":14,"v":"R"},{"r":52,"a":16,"b":17,"v":"B"},{"r":52,"a":19,"b":20,"v":"R"},{"r":52,"a":20,"b":21,"v":"B"},{"r":52,"a":22,"b":24,"v":"R"},{"r":52,"a":27,"b":28,"v":"R"},{"r":52,"a":28,"b":30,"v":"B"},{"r":52,"a":31,"b":32,"v":"B"},{"r":52,"a":32,"b":33,"v":"R"},
{"r":53,"a":1,"b":2,"v":"R"},{"r":53,"a":7,"b":8,"v":"B"},{"r":53,"a":17,"b":18,"v":"R"},{"r":53,"a":21,"b":22,"v":"B"},{"r":53,"a":23,"b":24,"v":"B"},{"r":53,"a":28,"b":32,"v":"B"},
{"r":54,"a":0,"b":1,"v":"B"},{"r":54,"a":2,"b":3,"v":"B"},{"r":54,"a":4,"b":7,"v":"B"},{"r":54,"a":12,"b":13,"v":"B"},{"r":54,"a":17,"b":22,"v":"B"},{"r":54,"a":24,"b":26,"v":"B"},{"r":54,"a":27,"b":28,"v":"R"},
{"r":55,"a":3,"b":4,"v":"B"},{"r":55,"a":4,"b":5,"v":"R"},{"r":55,"a":11,"b":14,"v":"B"},{"r":55,"a":16,"b":18,"v":"B"},{"r":55,"a":19,"b":22,"v":"B"},{"r":55,"a":28,"b":30,"v":"B"},
{"r":56,"a":0,"b":3,"v":"R"},{"r":56,"a":4,"b":8,"v":"R"},{"r":56,"a":10,"b":12,"v":"R"},{"r":56,"a":15,"b":18,"v":"R"},{"r":56,"a":22,"b":27,"v":"B"},{"r":56,"a":28,"b":32,"v":"B"},
{"r":57,"a":2,"b":3,"v":"B"},{"r":57,"a":6,"b":7,"v":"B"},{"r":57,"a":8,"b":9,"v":"R"},{"r":57,"a":11,"b":12,"v":"R"},{"r":57,"a":12,"b":13,"v":"B"},{"r":57,"a":19,"b":20,"v":"R"},{"r":57,"a":20,"b":22,"v":"B"},{"r":57,"a":22,"b":24,"v":"R"},{"r":57,"a":27,"b":29,"v":"R"},
{"r":58,"a":1,"b":2,"v":"B"},{"r":58,"a":8,"b":12,"v":"B"},{"r":58,"a":17,"b":18,"v":"B"},{"r":58,"a":21,"b":22,"v":"R"},{"r":58,"a":24,"b":26,"v":"B"},{"r":58,"a":28,"b":32,"v":"B"},
{"r":59,"a":0,"b":5,"v":"B"},{"r":59,"a":6,"b":9,"v":"B"},{"r":59,"a":10,"b":11,"v":"B"},{"r":59,"a":12,"b":14,"v":"B"},{"r":59,"a":20,"b":22,"v":"B"},{"r":59,"a":26,"b":28,"v":"R"},{"r":59,"a":30,"b":32,"v":"R"},
{"r":0,"a":32,"b":37,"v":"R"},{"r":0,"a":38,"b":40,"v":"R"},{"r":0,"a":41,"b":44,"v":"R"},{"r":0,"a":48,"b":49,"v":"R"},{"r":0,"a":52,"b":53,"v":"R"},{"r":0,"a":54,"b":62,"v":"B"},{"r":0,"a":65,"b":66,"v":"B"},{"r":0,"a":68,"b":70,"v":"R"},{"r":0,"a":72,"b":73,"v":"R"},
{"r":1,"a":35,"b":36,"v":"R"},{"r":1,"a":43,"b":44,"v":"B"},{"r":1,"a":47,"b":53,"v":"R"},{"r":1,"a":54,"b":57,"v":"B"},{"r":1,"a":60,"b":61,"v":"B"},{"r":1,"a":65,"b":67,"v":"B"},{"r":1,"a":70,"b":74,"v":"R"},{"r":1,"a":74,"b":76,"v":"R"},
{"r":2,"a":32,"b":34,"v":"R"},{"r":2,"a":36,"b":37,"v":"B"},{"r":2,"a":39,"b":40,"v":"R"},{"r":2,"a":40,"b":41,"v":"B"},{"r":2,"a":42,"b":43,"v":"B"},{"r":2,"a":47,"b":48,"v":"R"},{"r":2,"a":49,"b":50,"v":"R"},{"r":2,"a":51,"b":52,"v":"R"},{"r":2,"a":61,"b":63,"v":"B"},{"r":2,"a":64,"b":65,"v":"B"},{"r":2,"a":72,"b":73,"v":"B"},
{"r":3,"a":32,"b":40,"v":"R"},{"r":3,"a":44,"b":45,"v":"B"},{"r":3,"a":47,"b":48,"v":"R"},{"r":3,"a":51,"b":52,"v":"R"},{"r":3,"a":52,"b":53,"v":"B"},{"r":3,"a":58,"b":60,"v":"R"},{"r":3,"a":60,"b":61,"v":"B"},{"r":3,"a":67,"b":72,"v":"R"},{"r":3,"a":74,"b":76,"v":"R"},
{"r":4,"a":34,"b":37,"v":"B"},{"r":4,"a":44,"b":47,"v":"B"},{"r":4,"a":67,"b":68,"v":"B"},
{"r":5,"a":34,"b":35,"v":"R"},{"r":5,"a":37,"b":38,"v":"R"},{"r":5,"a":40,"b":41,"v":"R"},{"r":5,"a":42,"b":43,"v":"B"},{"r":5,"a":47,"b":48,"v":"R"},{"r":5,"a":51,"b":52,"v":"R"},{"r":5,"a":62,"b":63,"v":"B"},{"r":5,"a":66,"b":67,"v":"B"},{"r":5,"a":69,"b":70,"v":"R"},
{"r":6,"a":32,"b":42,"v":"R"},{"r":6,"a":44,"b":45,"v":"B"},{"r":6,"a":46,"b":47,"v":"B"},{"r":6,"a":49,"b":50,"v":"R"},{"r":6,"a":50,"b":51,"v":"B"},{"r":6,"a":52,"b":53,"v":"B"},{"r":6,"a":54,"b":62,"v":"R"},{"r":6,"a":65,"b":66,"v":"R"},{"r":6,"a":67,"b":74,"v":"R"},{"r":6,"a":74,"b":76,"v":"R"},
{"r":7,"a":32,"b":42,"v":"R"},{"r":7,"a":44,"b":45,"v":"B"},{"r":7,"a":46,"b":48,"v":"B"},{"r":7,"a":48,"b":50,"v":"R"},{"r":7,"a":53,"b":54,"v":"R"},{"r":7,"a":55,"b":61,"v":"R"},{"r":7,"a":65,"b":66,"v":"R"},{"r":7,"a":66,"b":74,"v":"R"},
{"r":8,"a":33,"b":34,"v":"B"},{"r":8,"a":44,"b":45,"v":"B"},{"r":8,"a":48,"b":49,"v":"B"},{"r":8,"a":50,"b":52,"v":"R"},{"r":8,"a":54,"b":56,"v":"R"},{"r":8,"a":58,"b":60,"v":"R"},{"r":8,"a":63,"b":64,"v":"R"},{"r":8,"a":70,"b":72,"v":"R"},{"r":8,"a":74,"b":75,"v":"R"},
{"r":9,"a":36,"b":38,"v":"B"},{"r":9,"a":44,"b":45,"v":"R"},{"r":9,"a":52,"b":65,"v":"R"},{"r":9,"a":65,"b":66,"v":"R"},{"r":9,"a":67,"b":68,"v":"R"},{"r":9,"a":68,"b":72,"v":"B"},
{"r":10,"a":32,"b":34,"v":"R"},{"r":10,"a":36,"b":38,"v":"R"},{"r":10,"a":41,"b":42,"v":"R"},{"r":10,"a":45,"b":46,"v":"R"},{"r":10,"a":46,"b":47,"v":"B"},{"r":10,"a":47,"b":48,"v":"R"},{"r":10,"a":52,"b":54,"v":"R"},{"r":10,"a":61,"b":62,"v":"R"},{"r":10,"a":63,"b":68,"v":"R"},{"r":10,"a":70,"b":74,"v":"R"},{"r":10,"a":74,"b":76,"v":"R"},
{"r":11,"a":32,"b":35,"v":"R"},{"r":11,"a":37,"b":38,"v":"R"},{"r":11,"a":40,"b":41,"v":"B"},{"r":11,"a":42,"b":43,"v":"B"},{"r":11,"a":48,"b":49,"v":"B"},{"r":11,"a":50,"b":60,"v":"R"},{"r":11,"a":61,"b":63,"v":"R"},{"r":11,"a":65,"b":66,"v":"R"},{"r":11,"a":67,"b":68,"v":"R"},{"r":11,"a":69,"b":76,"v":"R"},
{"r":12,"a":33,"b":34,"v":"R"},{"r":12,"a":34,"b":35,"v":"B"},{"r":12,"a":36,"b":37,"v":"B"},{"r":12,"a":45,"b":52,"v":"B"},{"r":12,"a":54,"b":55,"v":"R"},{"r":12,"a":59,"b":60,"v":"R"},{"r":12,"a":68,"b":69,"v":"B"},{"r":12,"a":71,"b":72,"v":"R"},{"r":12,"a":74,"b":76,"v":"R"},
{"r":13,"a":43,"b":45,"v":"R"},{"r":13,"a":50,"b":51,"v":"B"},{"r":13,"a":52,"b":53,"v":"B"},{"r":13,"a":58,"b":59,"v":"B"},{"r":13,"a":61,"b":63,"v":"B"},
{"r":14,"a":36,"b":37,"v":"B"},{"r":14,"a":40,"b":41,"v":"B"},{"r":14,"a":46,"b":47,"v":"B"},{"r":14,"a":48,"b":49,"v":"B"},{"r":14,"a":52,"b":54,"v":"R"},{"r":14,"a":56,"b":58,"v":"R"},{"r":14,"a":64,"b":66,"v":"B"},{"r":14,"a":68,"b":69,"v":"B"},{"r":14,"a":74,"b":76,"v":"R"},
{"r":15,"a":32,"b":34,"v":"R"},{"r":15,"a":36,"b":38,"v":"R"},{"r":15,"a":45,"b":46,"v":"B"},{"r":15,"a":54,"b":57,"v":"R"},{"r":15,"a":58,"b":60,"v":"R"},{"r":15,"a":62,"b":63,"v":"R"},{"r":15,"a":64,"b":65,"v":"R"},{"r":15,"a":66,"b":67,"v":"R"},{"r":15,"a":68,"b":73,"v":"R"},{"r":15,"a":75,"b":76,"v":"R"},
{"r":16,"a":33,"b":45,"v":"B"},{"r":16,"a":50,"b":51,"v":"B"},{"r":16,"a":53,"b":54,"v":"R"},{"r":16,"a":58,"b":60,"v":"B"},{"r":16,"a":65,"b":66,"v":"B"},{"r":16,"a":67,"b":69,"v":"B"},
{"r":17,"a":33,"b":36,"v":"R"},{"r":17,"a":47,"b":48,"v":"R"},{"r":17,"a":49,"b":50,"v":"R"},{"r":17,"a":59,"b":60,"v":"R"},{"r":17,"a":64,"b":65,"v":"R"},{"r":17,"a":72,"b":74,"v":"R"},
{"r":18,"a":33,"b":36,"v":"B"},{"r":18,"a":49,"b":50,"v":"B"},{"r":18,"a":52,"b":53,"v":"R"},
{"r":19,"a":34,"b":37,"v":"B"},{"r":19,"a":40,"b":43,"v":"B"},{"r":19,"a":47,"b":48,"v":"R"},{"r":19,"a":50,"b":51,"v":"B"},{"r":19,"a":52,"b":54,"v":"R"},{"r":19,"a":58,"b":60,"v":"B"},{"r":19,"a":60,"b":62,"v":"R"},{"r":19,"a":63,"b":64,"v":"R"},{"r":19,"a":66,"b":68,"v":"B"},{"r":19,"a":75,"b":76,"v":"B"},
{"r":20,"a":32,"b":33,"v":"R"},{"r":20,"a":37,"b":38,"v":"B"},{"r":20,"a":39,"b":40,"v":"R"},{"r":20,"a":40,"b":41,"v":"B"},{"r":20,"a":47,"b":48,"v":"R"},{"r":20,"a":51,"b":52,"v":"R"},{"r":20,"a":53,"b":54,"v":"R"},{"r":20,"a":71,"b":72,"v":"B"},{"r":20,"a":75,"b":76,"v":"R"},
{"r":21,"a":32,"b":33,"v":"R"},{"r":21,"a":36,"b":39,"v":"R"},{"r":21,"a":41,"b":42,"v":"R"},{"r":21,"a":42,"b":43,"v":"B"},{"r":21,"a":44,"b":45,"v":"B"},{"r":21,"a":46,"b":48,"v":"B"},{"r":21,"a":54,"b":56,"v":"R"},{"r":21,"a":56,"b":58,"v":"B"},{"r":21,"a":59,"b":60,"v":"R"},{"r":21,"a":63,"b":64,"v":"R"},{"r":21,"a":66,"b":68,"v":"R"},{"r":21,"a":73,"b":74,"v":"R"},
{"r":22,"a":32,"b":33,"v":"R"},{"r":22,"a":39,"b":41,"v":"B"},{"r":22,"a":43,"b":46,"v":"B"},{"r":22,"a":51,"b":68,"v":"B"},{"r":22,"a":68,"b":74,"v":"R"},{"r":22,"a":74,"b":76,"v":"B"},
{"r":23,"a":32,"b":33,"v":"R"},{"r":23,"a":38,"b":39,"v":"B"},{"r":23,"a":42,"b":44,"v":"B"},{"r":23,"a":45,"b":46,"v":"B"},{"r":23,"a":47,"b":49,"v":"B"},{"r":23,"a":51,"b":52,"v":"B"},{"r":23,"a":55,"b":56,"v":"R"},{"r":23,"a":57,"b":58,"v":"B"},{"r":23,"a":59,"b":60,"v":"R"},{"r":23,"a":62,"b":68,"v":"B"},{"r":23,"a":68,"b":69,"v":"R"},{"r":23,"a":70,"b":72,"v":"B"},{"r":23,"a":74,"b":76,"v":"R"},
{"r":24,"a":33,"b":34,"v":"R"},{"r":24,"a":38,"b":39,"v":"B"},{"r":24,"a":42,"b":47,"v":"B"},{"r":24,"a":48,"b":49,"v":"B"},{"r":24,"a":54,"b":56,"v":"B"},{"r":24,"a":59,"b":61,"v":"B"},{"r":24,"a":62,"b":68,"v":"B"},{"r":24,"a":74,"b":76,"v":"R"},
{"r":25,"a":33,"b":34,"v":"R"},{"r":25,"a":38,"b":41,"v":"B"},{"r":25,"a":45,"b":46,"v":"B"},{"r":25,"a":47,"b":48,"v":"R"},{"r":25,"a":52,"b":54,"v":"B"},{"r":25,"a":54,"b":56,"v":"R"},{"r":25,"a":58,"b":59,"v":"R"},{"r":25,"a":60,"b":61,"v":"R"},{"r":25,"a":70,"b":71,"v":"B"},{"r":25,"a":72,"b":73,"v":"B"},
{"r":26,"a":35,"b":36,"v":"B"},{"r":26,"a":39,"b":40,"v":"R"},{"r":26,"a":41,"b":42,"v":"R"},{"r":26,"a":42,"b":44,"v":"B"},{"r":26,"a":46,"b":48,"v":"B"},{"r":26,"a":50,"b":51,"v":"B"},{"r":26,"a":53,"b":54,"v":"R"},{"r":26,"a":59,"b":60,"v":"R"},{"r":26,"a":65,"b":66,"v":"B"},{"r":26,"a":70,"b":72,"v":"R"},{"r":26,"a":73,"b":74,"v":"R"},
{"r":27,"a":32,"b":34,"v":"B"},{"r":27,"a":38,"b":39,"v":"B"},{"r":27,"a":39,"b":40,"v":"R"},{"r":27,"a":41,"b":42,"v":"R"},{"r":27,"a":43,"b":44,"v":"R"},{"r":27,"a":44,"b":45,"v":"B"},{"r":27,"a":45,"b":46,"v":"R"},{"r":27,"a":46,"b":47,"v":"B"},{"r":27,"a":47,"b":48,"v":"R"},{"r":27,"a":50,"b":51,"v":"B"},{"r":27,"a":51,"b":52,"v":"R"},{"r":27,"a":53,"b":54,"v":"R"},{"r":27,"a":58,"b":60,"v":"R"},{"r":27,"a":63,"b":65,"v":"R"},{"r":27,"a":66,"b":68,"v":"R"},{"r":27,"a":68,"b":70,"v":"B"},{"r":27,"a":75,"b":76,"v":"R"},
{"r":28,"a":33,"b":34,"v":"B"},{"r":28,"a":38,"b":40,"v":"B"},{"r":28,"a":41,"b":46,"v":"B"},{"r":28,"a":47,"b":48,"v":"B"},{"r":28,"a":50,"b":54,"v":"B"},{"r":28,"a":55,"b":60,"v":"B"},{"r":28,"a":63,"b":64,"v":"R"},{"r":28,"a":64,"b":65,"v":"B"},{"r":28,"a":74,"b":76,"v":"B"},
{"r":29,"a":33,"b":54,"v":"B"},{"r":29,"a":54,"b":56,"v":"R"},{"r":29,"a":58,"b":60,"v":"R"},{"r":29,"a":62,"b":67,"v":"B"},{"r":29,"a":68,"b":70,"v":"B"},{"r":29,"a":71,"b":72,"v":"R"},{"r":29,"a":75,"b":76,"v":"R"},
{"r":30,"a":36,"b":39,"v":"B"},{"r":30,"a":40,"b":41,"v":"B"},{"r":30,"a":42,"b":47,"v":"B"},{"r":30,"a":50,"b":51,"v":"B"},{"r":30,"a":58,"b":60,"v":"R"},{"r":30,"a":67,"b":69,"v":"R"},{"r":30,"a":74,"b":76,"v":"B"},
{"r":31,"a":32,"b":35,"v":"R"},{"r":31,"a":37,"b":38,"v":"R"},{"r":31,"a":44,"b":47,"v":"B"},{"r":31,"a":48,"b":49,"v":"B"},{"r":31,"a":50,"b":51,"v":"B"},{"r":31,"a":54,"b":60,"v":"R"},{"r":31,"a":63,"b":64,"v":"B"},{"r":31,"a":66,"b":68,"v":"B"},{"r":31,"a":68,"b":69,"v":"R"},{"r":31,"a":70,"b":72,"v":"R"},
{"r":32,"a":32,"b":33,"v":"R"},{"r":32,"a":34,"b":36,"v":"R"},{"r":32,"a":37,"b":38,"v":"R"},{"r":32,"a":41,"b":42,"v":"R"},{"r":32,"a":44,"b":45,"v":"B"},{"r":32,"a":47,"b":48,"v":"B"},{"r":32,"a":54,"b":59,"v":"B"},{"r":32,"a":60,"b":64,"v":"B"},{"r":32,"a":65,"b":66,"v":"B"},{"r":32,"a":68,"b":70,"v":"R"},{"r":32,"a":71,"b":74,"v":"R"},
{"r":33,"a":43,"b":46,"v":"B"},{"r":33,"a":50,"b":52,"v":"R"},{"r":33,"a":52,"b":53,"v":"B"},{"r":33,"a":59,"b":60,"v":"R"},{"r":33,"a":60,"b":64,"v":"B"},{"r":33,"a":65,"b":66,"v":"R"},{"r":33,"a":66,"b":67,"v":"B"},{"r":33,"a":68,"b":70,"v":"R"},{"r":33,"a":71,"b":72,"v":"R"},
{"r":34,"a":33,"b":34,"v":"R"},{"r":34,"a":34,"b":35,"v":"B"},{"r":34,"a":36,"b":37,"v":"B"},{"r":34,"a":38,"b":39,"v":"B"},{"r":34,"a":40,"b":41,"v":"B"},{"r":34,"a":42,"b":44,"v":"B"},{"r":34,"a":46,"b":49,"v":"B"},{"r":34,"a":54,"b":60,"v":"B"},{"r":34,"a":64,"b":69,"v":"B"},{"r":34,"a":70,"b":72,"v":"R"},{"r":34,"a":73,"b":74,"v":"R"},
{"r":35,"a":32,"b":35,"v":"R"},{"r":35,"a":40,"b":41,"v":"B"},{"r":35,"a":44,"b":45,"v":"B"},{"r":35,"a":46,"b":48,"v":"B"},{"r":35,"a":49,"b":50,"v":"R"},{"r":35,"a":51,"b":52,"v":"B"},{"r":35,"a":54,"b":58,"v":"B"},{"r":35,"a":60,"b":63,"v":"B"},{"r":35,"a":66,"b":70,"v":"R"},{"r":35,"a":75,"b":76,"v":"R"},
{"r":36,"a":32,"b":35,"v":"R"},{"r":36,"a":43,"b":44,"v":"R"},{"r":36,"a":46,"b":47,"v":"R"},{"r":36,"a":52,"b":53,"v":"R"},{"r":36,"a":54,"b":60,"v":"B"},{"r":36,"a":62,"b":63,"v":"R"},{"r":36,"a":65,"b":68,"v":"B"},{"r":36,"a":68,"b":70,"v":"R"},{"r":36,"a":74,"b":75,"v":"B"},
{"r":37,"a":33,"b":40,"v":"B"},{"r":37,"a":41,"b":50,"v":"B"},{"r":37,"a":51,"b":52,"v":"B"},{"r":37,"a":52,"b":54,"v":"R"},{"r":37,"a":57,"b":58,"v":"R"},{"r":37,"a":60,"b":61,"v":"B"},{"r":37,"a":62,"b":70,"v":"B"},{"r":37,"a":71,"b":72,"v":"B"},{"r":37,"a":72,"b":73,"v":"R"},{"r":37,"a":74,"b":76,"v":"R"},
{"r":38,"a":32,"b":33,"v":"R"},{"r":38,"a":38,"b":40,"v":"B"},{"r":38,"a":41,"b":46,"v":"B"},{"r":38,"a":48,"b":50,"v":"B"},{"r":38,"a":52,"b":53,"v":"R"},{"r":38,"a":54,"b":56,"v":"B"},{"r":38,"a":57,"b":69,"v":"B"},{"r":38,"a":70,"b":71,"v":"B"},{"r":38,"a":75,"b":76,"v":"R"},
{"r":39,"a":36,"b":37,"v":"B"},{"r":39,"a":38,"b":40,"v":"B"},{"r":39,"a":42,"b":44,"v":"B"},{"r":39,"a":50,"b":51,"v":"B"},{"r":39,"a":74,"b":75,"v":"B"},
{"r":40,"a":49,"b":50,"v":"R"},{"r":40,"a":50,"b":51,"v":"B"},{"r":40,"a":71,"b":72,"v":"R"},{"r":40,"a":74,"b":75,"v":"B"},
{"r":41,"a":36,"b":37,"v":"B"},{"r":41,"a":40,"b":43,"v":"B"},{"r":41,"a":44,"b":46,"v":"R"},{"r":41,"a":52,"b":54,"v":"R"},{"r":41,"a":54,"b":59,"v":"R"},{"r":41,"a":60,"b":65,"v":"R"},{"r":41,"a":68,"b":69,"v":"B"},{"r":41,"a":73,"b":74,"v":"R"},
{"r":42,"a":32,"b":37,"v":"R"},{"r":42,"a":42,"b":43,"v":"B"},{"r":42,"a":46,"b":47,"v":"B"},{"r":42,"a":49,"b":50,"v":"R"},{"r":42,"a":53,"b":54,"v":"R"},{"r":42,"a":58,"b":59,"v":"B"},{"r":42,"a":61,"b":62,"v":"B"},{"r":42,"a":68,"b":70,"v":"R"},{"r":42,"a":71,"b":75,"v":"R"},
{"r":43,"a":32,"b":34,"v":"R"},{"r":43,"a":37,"b":38,"v":"R"},{"r":43,"a":38,"b":48,"v":"B"},{"r":43,"a":50,"b":52,"v":"B"},{"r":43,"a":54,"b":58,"v":"B"},{"r":43,"a":59,"b":60,"v":"B"},{"r":43,"a":61,"b":66,"v":"B"},{"r":43,"a":68,"b":73,"v":"R"},{"r":43,"a":74,"b":76,"v":"B"},
{"r":44,"a":32,"b":35,"v":"R"},{"r":44,"a":37,"b":38,"v":"R"},{"r":44,"a":43,"b":44,"v":"B"},{"r":44,"a":46,"b":48,"v":"R"},{"r":44,"a":66,"b":67,"v":"R"},{"r":44,"a":68,"b":70,"v":"R"},{"r":44,"a":74,"b":76,"v":"B"},
{"r":45,"a":32,"b":33,"v":"R"},{"r":45,"a":38,"b":46,"v":"B"},{"r":45,"a":50,"b":51,"v":"B"},{"r":45,"a":52,"b":53,"v":"B"},{"r":45,"a":63,"b":68,"v":"B"},{"r":45,"a":68,"b":71,"v":"R"},{"r":45,"a":75,"b":76,"v":"R"},
{"r":46,"a":33,"b":34,"v":"R"},{"r":46,"a":36,"b":44,"v":"B"},{"r":46,"a":53,"b":54,"v":"R"},{"r":46,"a":60,"b":68,"v":"B"},{"r":46,"a":75,"b":76,"v":"R"},
{"r":47,"a":36,"b":37,"v":"B"},{"r":47,"a":38,"b":44,"v":"B"},{"r":47,"a":48,"b":49,"v":"R"},{"r":47,"a":50,"b":52,"v":"B"},{"r":47,"a":55,"b":56,"v":"R"},{"r":47,"a":68,"b":69,"v":"R"},{"r":47,"a":71,"b":72,"v":"B"},{"r":47,"a":73,"b":76,"v":"B"},
{"r":48,"a":32,"b":33,"v":"R"},{"r":48,"a":38,"b":40,"v":"R"},{"r":48,"a":41,"b":44,"v":"R"},{"r":48,"a":46,"b":48,"v":"R"},{"r":48,"a":51,"b":52,"v":"R"},{"r":48,"a":56,"b":58,"v":"B"},{"r":48,"a":60,"b":62,"v":"B"},{"r":48,"a":63,"b":64,"v":"B"},{"r":48,"a":66,"b":68,"v":"B"},{"r":48,"a":73,"b":74,"v":"B"},{"r":48,"a":74,"b":76,"v":"R"},
{"r":49,"a":35,"b":46,"v":"B"},{"r":49,"a":52,"b":53,"v":"B"},{"r":49,"a":54,"b":56,"v":"R"},{"r":49,"a":59,"b":60,"v":"R"},{"r":49,"a":66,"b":68,"v":"B"},{"r":49,"a":74,"b":76,"v":"B"},
{"r":50,"a":32,"b":33,"v":"R"},{"r":50,"a":38,"b":44,"v":"B"},{"r":50,"a":45,"b":47,"v":"B"},{"r":50,"a":48,"b":58,"v":"B"},{"r":50,"a":60,"b":63,"v":"B"},{"r":50,"a":66,"b":68,"v":"B"},{"r":50,"a":69,"b":70,"v":"R"},{"r":50,"a":72,"b":76,"v":"B"},
{"r":51,"a":36,"b":43,"v":"B"},{"r":51,"a":44,"b":47,"v":"B"},{"r":51,"a":49,"b":50,"v":"R"},{"r":51,"a":50,"b":53,"v":"B"},{"r":51,"a":60,"b":62,"v":"B"},{"r":51,"a":66,"b":67,"v":"B"},{"r":51,"a":68,"b":69,"v":"B"},{"r":51,"a":70,"b":72,"v":"B"},{"r":51,"a":72,"b":74,"v":"R"},{"r":51,"a":74,"b":75,"v":"B"},
{"r":52,"a":32,"b":33,"v":"R"},{"r":52,"a":36,"b":37,"v":"B"},{"r":52,"a":38,"b":41,"v":"B"},{"r":52,"a":42,"b":46,"v":"B"},{"r":52,"a":48,"b":49,"v":"B"},{"r":52,"a":52,"b":53,"v":"B"},{"r":52,"a":55,"b":56,"v":"R"},{"r":52,"a":58,"b":60,"v":"R"},{"r":52,"a":61,"b":66,"v":"B"},{"r":52,"a":68,"b":72,"v":"R"},{"r":52,"a":73,"b":74,"v":"R"},{"r":52,"a":74,"b":76,"v":"B"},
{"r":53,"a":33,"b":36,"v":"R"},{"r":53,"a":39,"b":40,"v":"R"},{"r":53,"a":40,"b":41,"v":"B"},{"r":53,"a":42,"b":52,"v":"B"},{"r":53,"a":55,"b":56,"v":"R"},{"r":53,"a":63,"b":64,"v":"B"},{"r":53,"a":65,"b":67,"v":"B"},{"r":53,"a":70,"b":72,"v":"R"},
{"r":54,"a":34,"b":35,"v":"B"},{"r":54,"a":38,"b":41,"v":"B"},{"r":54,"a":42,"b":44,"v":"B"},{"r":54,"a":51,"b":63,"v":"B"},{"r":54,"a":65,"b":68,"v":"B"},{"r":54,"a":70,"b":72,"v":"R"},{"r":54,"a":74,"b":76,"v":"B"},
{"r":55,"a":34,"b":35,"v":"R"},{"r":55,"a":36,"b":37,"v":"B"},{"r":55,"a":37,"b":38,"v":"R"},{"r":55,"a":44,"b":45,"v":"R"},{"r":55,"a":46,"b":48,"v":"R"},{"r":55,"a":53,"b":62,"v":"B"},{"r":55,"a":64,"b":65,"v":"R"},{"r":55,"a":66,"b":68,"v":"B"},{"r":55,"a":75,"b":76,"v":"B"},
{"r":56,"a":39,"b":42,"v":"B"},{"r":56,"a":43,"b":44,"v":"B"},{"r":56,"a":45,"b":46,"v":"B"},{"r":56,"a":50,"b":52,"v":"R"},{"r":56,"a":59,"b":60,"v":"R"},{"r":56,"a":66,"b":70,"v":"B"},{"r":56,"a":70,"b":76,"v":"R"},
{"r":57,"a":32,"b":34,"v":"R"},{"r":57,"a":37,"b":38,"v":"R"},{"r":57,"a":38,"b":39,"v":"B"},{"r":57,"a":40,"b":41,"v":"B"},{"r":57,"a":42,"b":48,"v":"B"},{"r":57,"a":48,"b":49,"v":"R"},{"r":57,"a":50,"b":53,"v":"B"},{"r":57,"a":54,"b":56,"v":"R"},{"r":57,"a":57,"b":60,"v":"R"},{"r":57,"a":62,"b":64,"v":"B"},{"r":57,"a":68,"b":76,"v":"R"},
{"r":58,"a":32,"b":33,"v":"R"},{"r":58,"a":34,"b":42,"v":"B"},{"r":58,"a":45,"b":46,"v":"B"},{"r":58,"a":47,"b":48,"v":"R"},{"r":58,"a":48,"b":49,"v":"B"},{"r":58,"a":54,"b":59,"v":"R"},{"r":58,"a":62,"b":68,"v":"B"},{"r":58,"a":73,"b":74,"v":"R"},{"r":58,"a":75,"b":76,"v":"R"},
{"r":59,"a":32,"b":33,"v":"R"},{"r":59,"a":38,"b":40,"v":"B"},{"r":59,"a":42,"b":50,"v":"B"},{"r":59,"a":55,"b":56,"v":"B"},{"r":59,"a":58,"b":68,"v":"B"},{"r":59,"a":69,"b":74,"v":"R"},
{"r":0,"a":78,"b":79,"v":"R"},{"r":0,"a":81,"b":88,"v":"R"},{"r":0,"a":92,"b":93,"v":"R"},{"r":0,"a":100,"b":101,"v":"R"},{"r":0,"a":102,"b":103,"v":"R"},{"r":0,"a":104,"b":106,"v":"R"},{"r":0,"a":106,"b":107,"v":"B"},{"r":0,"a":107,"b":108,"v":"R"},{"r":0,"a":110,"b":112,"v":"B"},
{"r":1,"a":81,"b":82,"v":"B"},{"r":1,"a":82,"b":84,"v":"R"},{"r":1,"a":86,"b":87,"v":"B"},{"r":1,"a":93,"b":94,"v":"R"},{"r":1,"a":102,"b":103,"v":"B"},{"r":1,"a":103,"b":104,"v":"R"},{"r":1,"a":106,"b":110,"v":"R"},{"r":1,"a":110,"b":112,"v":"B"},
{"r":2,"a":88,"b":89,"v":"R"},{"r":2,"a":92,"b":94,"v":"B"},{"r":2,"a":97,"b":98,"v":"B"},{"r":2,"a":98,"b":99,"v":"R"},{"r":2,"a":104,"b":105,"v":"B"},{"r":2,"a":105,"b":106,"v":"R"},{"r":2,"a":106,"b":107,"v":"B"},{"r":2,"a":107,"b":109,"v":"R"},
{"r":3,"a":78,"b":84,"v":"R"},{"r":3,"a":86,"b":91,"v":"R"},{"r":3,"a":93,"b":99,"v":"R"},{"r":3,"a":101,"b":102,"v":"R"},{"r":3,"a":103,"b":105,"v":"R"},{"r":3,"a":107,"b":109,"v":"R"},{"r":3,"a":110,"b":112,"v":"R"},{"r":3,"a":113,"b":114,"v":"B"},
{"r":4,"a":80,"b":82,"v":"B"},{"r":4,"a":84,"b":86,"v":"R"},{"r":4,"a":87,"b":91,"v":"B"},{"r":4,"a":93,"b":94,"v":"B"},{"r":4,"a":97,"b":106,"v":"B"},{"r":4,"a":106,"b":109,"v":"R"},{"r":4,"a":110,"b":111,"v":"B"},
{"r":5,"a":79,"b":80,"v":"R"},{"r":5,"a":81,"b":82,"v":"R"},{"r":5,"a":83,"b":84,"v":"R"},{"r":5,"a":88,"b":89,"v":"R"},{"r":5,"a":90,"b":91,"v":"R"},{"r":5,"a":94,"b":95,"v":"R"},{"r":5,"a":97,"b":98,"v":"R"},{"r":5,"a":99,"b":100,"v":"B"},{"r":5,"a":101,"b":102,"v":"R"},{"r":5,"a":105,"b":106,"v":"B"},{"r":5,"a":107,"b":110,"v":"R"},
{"r":6,"a":77,"b":82,"v":"R"},{"r":6,"a":83,"b":84,"v":"R"},{"r":6,"a":87,"b":89,"v":"R"},{"r":6,"a":90,"b":91,"v":"R"},{"r":6,"a":94,"b":99,"v":"R"},{"r":6,"a":101,"b":102,"v":"R"},{"r":6,"a":103,"b":104,"v":"R"},{"r":6,"a":105,"b":112,"v":"R"},
{"r":7,"a":76,"b":85,"v":"R"},{"r":7,"a":86,"b":89,"v":"R"},{"r":7,"a":90,"b":91,"v":"R"},{"r":7,"a":94,"b":95,"v":"R"},{"r":7,"a":96,"b":99,"v":"R"},{"r":7,"a":101,"b":102,"v":"R"},{"r":7,"a":103,"b":104,"v":"R"},{"r":7,"a":105,"b":106,"v":"R"},{"r":7,"a":107,"b":109,"v":"R"},
{"r":8,"a":78,"b":86,"v":"R"},{"r":8,"a":88,"b":91,"v":"R"},{"r":8,"a":92,"b":94,"v":"R"},{"r":8,"a":95,"b":96,"v":"R"},{"r":8,"a":101,"b":102,"v":"B"},{"r":8,"a":105,"b":111,"v":"R"},{"r":8,"a":112,"b":113,"v":"R"},
{"r":9,"a":76,"b":78,"v":"B"},{"r":9,"a":80,"b":84,"v":"B"},{"r":9,"a":85,"b":86,"v":"B"},{"r":9,"a":88,"b":91,"v":"R"},{"r":9,"a":92,"b":93,"v":"B"},{"r":9,"a":98,"b":100,"v":"R"},{"r":9,"a":103,"b":105,"v":"R"},{"r":9,"a":106,"b":107,"v":"B"},{"r":9,"a":107,"b":109,"v":"R"},{"r":9,"a":112,"b":113,"v":"B"},
{"r":10,"a":76,"b":77,"v":"R"},{"r":10,"a":78,"b":87,"v":"R"},{"r":10,"a":88,"b":89,"v":"R"},{"r":10,"a":97,"b":99,"v":"R"},{"r":10,"a":101,"b":102,"v":"B"},{"r":10,"a":105,"b":106,"v":"B"},{"r":10,"a":107,"b":108,"v":"R"},{"r":10,"a":111,"b":112,"v":"R"},
{"r":11,"a":78,"b":85,"v":"R"},{"r":11,"a":88,"b":89,"v":"R"},{"r":11,"a":89,"b":90,"v":"B"},{"r":11,"a":91,"b":92,"v":"B"},{"r":11,"a":95,"b":98,"v":"R"},{"r":11,"a":98,"b":100,"v":"B"},{"r":11,"a":102,"b":105,"v":"B"},{"r":11,"a":106,"b":110,"v":"R"},
{"r":12,"a":76,"b":77,"v":"R"},{"r":12,"a":78,"b":80,"v":"R"},{"r":12,"a":82,"b":83,"v":"R"},{"r":12,"a":85,"b":86,"v":"B"},{"r":12,"a":95,"b":97,"v":"R"},{"r":12,"a":100,"b":102,"v":"B"},{"r":12,"a":106,"b":107,"v":"R"},{"r":12,"a":108,"b":109,"v":"R"},{"r":12,"a":111,"b":112,"v":"B"},{"r":12,"a":113,"b":114,"v":"B"},
{"r":13,"a":87,"b":89,"v":"R"},{"r":13,"a":90,"b":94,"v":"R"},{"r":13,"a":98,"b":100,"v":"R"},{"r":13,"a":104,"b":106,"v":"B"},{"r":13,"a":106,"b":108,"v":"R"},{"r":13,"a":108,"b":110,"v":"B"},{"r":13,"a":112,"b":113,"v":"R"},
{"r":14,"a":76,"b":78,"v":"R"},{"r":14,"a":90,"b":92,"v":"R"},{"r":14,"a":95,"b":99,"v":"R"},{"r":14,"a":100,"b":101,"v":"R"},{"r":14,"a":103,"b":104,"v":"R"},{"r":14,"a":107,"b":111,"v":"R"},{"r":14,"a":112,"b":114,"v":"R"},
{"r":15,"a":78,"b":82,"v":"R"},{"r":15,"a":85,"b":86,"v":"R"},{"r":15,"a":87,"b":91,"v":"R"},{"r":15,"a":93,"b":94,"v":"B"},{"r":15,"a":95,"b":100,"v":"R"},{"r":15,"a":107,"b":113,"v":"R"},
{"r":16,"a":80,"b":82,"v":"B"},{"r":16,"a":83,"b":84,"v":"B"},{"r":16,"a":85,"b":86,"v":"B"},{"r":16,"a":95,"b":96,"v":"B"},{"r":16,"a":104,"b":105,"v":"R"},{"r":16,"a":112,"b":113,"v":"B"},
{"r":17,"a":76,"b":78,"v":"R"},{"r":17,"a":82,"b":83,"v":"R"},{"r":17,"a":84,"b":87,"v":"R"},{"r":17,"a":88,"b":89,"v":"R"},{"r":17,"a":95,"b":96,"v":"R"},{"r":17,"a":98,"b":100,"v":"B"},{"r":17,"a":101,"b":102,"v":"B"},{"r":17,"a":105,"b":106,"v":"B"},{"r":17,"a":106,"b":109,"v":"R"},
{"r":18,"a":76,"b":79,"v":"R"},{"r":18,"a":80,"b":81,"v":"R"},{"r":18,"a":93,"b":94,"v":"B"},{"r":18,"a":96,"b":97,"v":"B"},{"r":18,"a":105,"b":107,"v":"R"},{"r":18,"a":112,"b":113,"v":"R"},
{"r":19,"a":76,"b":78,"v":"R"},{"r":19,"a":79,"b":80,"v":"R"},{"r":19,"a":80,"b":81,"v":"B"},{"r":19,"a":81,"b":88,"v":"R"},{"r":19,"a":98,"b":99,"v":"R"},{"r":19,"a":101,"b":102,"v":"B"},{"r":19,"a":106,"b":108,"v":"R"},{"r":19,"a":110,"b":113,"v":"R"},{"r":19,"a":113,"b":114,"v":"B"},
{"r":20,"a":77,"b":78,"v":"R"},{"r":20,"a":80,"b":82,"v":"B"},{"r":20,"a":83,"b":84,"v":"B"},{"r":20,"a":88,"b":89,"v":"R"},{"r":20,"a":90,"b":91,"v":"R"},{"r":20,"a":93,"b":94,"v":"B"},{"r":20,"a":98,"b":99,"v":"R"},{"r":20,"a":106,"b":107,"v":"R"},{"r":20,"a":109,"b":110,"v":"B"},{"r":20,"a":112,"b":113,"v":"R"},
{"r":21,"a":78,"b":80,"v":"R"},{"r":21,"a":94,"b":96,"v":"R"},{"r":21,"a":97,"b":98,"v":"R"},{"r":21,"a":102,"b":103,"v":"R"},{"r":21,"a":107,"b":111,"v":"R"},
{"r":22,"a":76,"b":80,"v":"R"},{"r":22,"a":82,"b":84,"v":"R"},{"r":22,"a":85,"b":86,"v":"R"},{"r":22,"a":88,"b":89,"v":"R"},{"r":22,"a":92,"b":93,"v":"B"},{"r":22,"a":104,"b":105,"v":"B"},{"r":22,"a":107,"b":112,"v":"R"},{"r":22,"a":113,"b":114,"v":"R"},
{"r":23,"a":76,"b":81,"v":"R"},{"r":23,"a":82,"b":86,"v":"R"},{"r":23,"a":89,"b":90,"v":"R"},{"r":23,"a":97,"b":98,"v":"R"},{"r":23,"a":105,"b":111,"v":"R"},{"r":23,"a":113,"b":114,"v":"R"},
{"r":24,"a":80,"b":82,"v":"B"},{"r":24,"a":88,"b":90,"v":"B"},{"r":24,"a":91,"b":92,"v":"B"},{"r":24,"a":94,"b":95,"v":"B"},{"r":24,"a":96,"b":98,"v":"B"},{"r":24,"a":99,"b":102,"v":"B"},{"r":24,"a":108,"b":109,"v":"R"},{"r":24,"a":112,"b":113,"v":"B"},
{"r":25,"a":81,"b":82,"v":"B"},{"r":25,"a":83,"b":84,"v":"B"},{"r":25,"a":90,"b":91,"v":"R"},{"r":25,"a":95,"b":96,"v":"B"},{"r":25,"a":97,"b":98,"v":"B"},{"r":25,"a":100,"b":103,"v":"B"},{"r":25,"a":107,"b":109,"v":"R"},
{"r":26,"a":76,"b":79,"v":"R"},{"r":26,"a":82,"b":86,"v":"R"},{"r":26,"a":87,"b":88,"v":"R"},{"r":26,"a":92,"b":93,"v":"R"},{"r":26,"a":94,"b":96,"v":"R"},{"r":26,"a":105,"b":106,"v":"R"},{"r":26,"a":108,"b":110,"v":"R"},{"r":26,"a":112,"b":114,"v":"B"},
{"r":27,"a":77,"b":78,"v":"B"},{"r":27,"a":78,"b":82,"v":"R"},{"r":27,"a":83,"b":84,"v":"R"},{"r":27,"a":92,"b":98,"v":"R"},{"r":27,"a":101,"b":103,"v":"B"},{"r":27,"a":104,"b":106,"v":"B"},{"r":27,"a":107,"b":111,"v":"R"},{"r":27,"a":111,"b":113,"v":"B"},
{"r":28,"a":77,"b":79,"v":"R"},{"r":28,"a":82,"b":84,"v":"R"},{"r":28,"a":88,"b":89,"v":"R"},{"r":28,"a":96,"b":97,"v":"R"},{"r":28,"a":107,"b":110,"v":"R"},{"r":28,"a":113,"b":114,"v":"B"},
{"r":29,"a":76,"b":78,"v":"R"},{"r":29,"a":80,"b":82,"v":"B"},{"r":29,"a":84,"b":86,"v":"R"},{"r":29,"a":88,"b":89,"v":"B"},{"r":29,"a":91,"b":94,"v":"B"},{"r":29,"a":95,"b":96,"v":"B"},{"r":29,"a":99,"b":102,"v":"B"},{"r":29,"a":102,"b":105,"v":"R"},{"r":29,"a":105,"b":107,"v":"B"},{"r":29,"a":112,"b":114,"v":"R"},
{"r":30,"a":79,"b":80,"v":"R"},{"r":30,"a":80,"b":81,"v":"B"},{"r":30,"a":84,"b":86,"v":"B"},{"r":30,"a":88,"b":89,"v":"R"},{"r":30,"a":90,"b":93,"v":"R"},{"r":30,"a":95,"b":99,"v":"R"},{"r":30,"a":100,"b":101,"v":"R"},{"r":30,"a":104,"b":105,"v":"B"},{"r":30,"a":105,"b":112,"v":"R"},{"r":30,"a":112,"b":113,"v":"B"},
{"r":31,"a":76,"b":79,"v":"R"},{"r":31,"a":80,"b":82,"v":"B"},{"r":31,"a":84,"b":86,"v":"R"},{"r":31,"a":87,"b":88,"v":"R"},{"r":31,"a":96,"b":97,"v":"R"},{"r":31,"a":98,"b":99,"v":"B"},{"r":31,"a":101,"b":104,"v":"B"},{"r":31,"a":106,"b":107,"v":"B"},{"r":31,"a":108,"b":109,"v":"R"},{"r":31,"a":113,"b":114,"v":"B"},
{"r":32,"a":76,"b":84,"v":"R"},{"r":32,"a":91,"b":92,"v":"B"},{"r":32,"a":94,"b":95,"v":"R"},{"r":32,"a":98,"b":99,"v":"B"},{"r":32,"a":105,"b":106,"v":"R"},{"r":32,"a":108,"b":109,"v":"R"},{"r":32,"a":113,"b":114,"v":"B"},
{"r":33,"a":77,"b":78,"v":"R"},{"r":33,"a":82,"b":83,"v":"R"},{"r":33,"a":84,"b":86,"v":"R"},{"r":33,"a":87,"b":88,"v":"R"},{"r":33,"a":90,"b":92,"v":"R"},{"r":33,"a":96,"b":97,"v":"B"},{"r":33,"a":104,"b":105,"v":"R"},{"r":33,"a":105,"b":107,"v":"B"},{"r":33,"a":113,"b":114,"v":"B"},
{"r":34,"a":78,"b":79,"v":"B"},{"r":34,"a":80,"b":82,"v":"B"},{"r":34,"a":85,"b":88,"v":"R"},{"r":34,"a":90,"b":91,"v":"R"},{"r":34,"a":96,"b":98,"v":"B"},{"r":34,"a":100,"b":101,"v":"B"},{"r":34,"a":103,"b":105,"v":"R"},{"r":34,"a":107,"b":109,"v":"R"},{"r":34,"a":112,"b":113,"v":"R"},
{"r":35,"a":76,"b":80,"v":"R"},{"r":35,"a":83,"b":84,"v":"R"},{"r":35,"a":85,"b":86,"v":"R"},{"r":35,"a":86,"b":87,"v":"B"},{"r":35,"a":89,"b":90,"v":"B"},{"r":35,"a":90,"b":91,"v":"R"},{"r":35,"a":94,"b":99,"v":"R"},{"r":35,"a":102,"b":103,"v":"B"},{"r":35,"a":103,"b":104,"v":"R"},{"r":35,"a":104,"b":106,"v":"B"},{"r":35,"a":108,"b":111,"v":"R"},
{"r":36,"a":77,"b":80,"v":"R"},{"r":36,"a":82,"b":83,"v":"R"},{"r":36,"a":93,"b":99,"v":"B"},{"r":36,"a":101,"b":102,"v":"B"},{"r":36,"a":103,"b":106,"v":"B"},{"r":36,"a":107,"b":108,"v":"R"},{"r":36,"a":112,"b":113,"v":"B"},{"r":36,"a":113,"b":114,"v":"R"},
{"r":37,"a":79,"b":80,"v":"B"},{"r":37,"a":81,"b":82,"v":"B"},{"r":37,"a":85,"b":88,"v":"R"},{"r":37,"a":88,"b":91,"v":"B"},{"r":37,"a":97,"b":105,"v":"B"},{"r":37,"a":106,"b":107,"v":"B"},{"r":37,"a":107,"b":109,"v":"R"},{"r":37,"a":109,"b":114,"v":"B"},
{"r":38,"a":79,"b":81,"v":"R"},{"r":38,"a":81,"b":83,"v":"B"},{"r":38,"a":83,"b":84,"v":"R"},{"r":38,"a":86,"b":88,"v":"B"},{"r":38,"a":91,"b":92,"v":"B"},{"r":38,"a":93,"b":98,"v":"B"},{"r":38,"a":98,"b":99,"v":"R"},{"r":38,"a":99,"b":100,"v":"B"},{"r":38,"a":101,"b":104,"v":"B"},{"r":38,"a":105,"b":107,"v":"B"},{"r":38,"a":107,"b":108,"v":"R"},{"r":38,"a":109,"b":111,"v":"B"},
{"r":39,"a":76,"b":82,"v":"R"},{"r":39,"a":87,"b":88,"v":"R"},{"r":39,"a":90,"b":92,"v":"B"},{"r":39,"a":98,"b":102,"v":"B"},{"r":39,"a":105,"b":106,"v":"B"},{"r":39,"a":108,"b":109,"v":"B"},{"r":39,"a":112,"b":113,"v":"B"},
{"r":40,"a":78,"b":79,"v":"R"},{"r":40,"a":82,"b":86,"v":"R"},{"r":40,"a":87,"b":89,"v":"R"},{"r":40,"a":98,"b":99,"v":"R"},{"r":40,"a":100,"b":101,"v":"R"},{"r":40,"a":102,"b":103,"v":"R"},{"r":40,"a":109,"b":111,"v":"R"},{"r":40,"a":112,"b":113,"v":"R"},{"r":40,"a":113,"b":114,"v":"B"},
{"r":41,"a":76,"b":78,"v":"R"},{"r":41,"a":80,"b":85,"v":"B"},{"r":41,"a":93,"b":95,"v":"B"},{"r":41,"a":96,"b":97,"v":"B"},{"r":41,"a":107,"b":108,"v":"R"},
{"r":42,"a":77,"b":78,"v":"R"},{"r":42,"a":84,"b":89,"v":"R"},{"r":42,"a":91,"b":92,"v":"R"},{"r":42,"a":93,"b":94,"v":"R"},{"r":42,"a":100,"b":110,"v":"R"},{"r":42,"a":112,"b":113,"v":"R"},{"r":42,"a":113,"b":114,"v":"B"},
{"r":43,"a":76,"b":80,"v":"R"},{"r":43,"a":83,"b":86,"v":"R"},{"r":43,"a":87,"b":88,"v":"R"},{"r":43,"a":91,"b":92,"v":"B"},{"r":43,"a":93,"b":94,"v":"B"},{"r":43,"a":97,"b":98,"v":"B"},{"r":43,"a":99,"b":102,"v":"B"},{"r":43,"a":105,"b":106,"v":"B"},{"r":43,"a":107,"b":109,"v":"R"},
{"r":44,"a":76,"b":78,"v":"R"},{"r":44,"a":81,"b":84,"v":"R"},{"r":44,"a":94,"b":97,"v":"R"},{"r":44,"a":102,"b":103,"v":"B"},{"r":44,"a":107,"b":108,"v":"R"},{"r":44,"a":112,"b":114,"v":"R"},
{"r":45,"a":83,"b":84,"v":"R"},{"r":45,"a":86,"b":87,"v":"B"},{"r":45,"a":89,"b":90,"v":"B"},{"r":45,"a":93,"b":94,"v":"R"},{"r":45,"a":97,"b":98,"v":"B"},{"r":45,"a":105,"b":106,"v":"R"},{"r":45,"a":107,"b":109,"v":"R"},{"r":45,"a":110,"b":111,"v":"R"},{"r":45,"a":113,"b":114,"v":"R"},
{"r":46,"a":77,"b":78,"v":"R"},{"r":46,"a":79,"b":80,"v":"R"},{"r":46,"a":86,"b":87,"v":"R"},{"r":46,"a":92,"b":98,"v":"B"},{"r":46,"a":101,"b":102,"v":"B"},{"r":46,"a":105,"b":107,"v":"B"},
{"r":47,"a":76,"b":78,"v":"R"},{"r":47,"a":82,"b":86,"v":"R"},{"r":47,"a":88,"b":89,"v":"R"},{"r":47,"a":93,"b":94,"v":"B"},{"r":47,"a":96,"b":98,"v":"R"},{"r":47,"a":98,"b":99,"v":"B"},{"r":47,"a":102,"b":103,"v":"B"},{"r":47,"a":106,"b":107,"v":"B"},{"r":47,"a":108,"b":114,"v":"R"},
{"r":48,"a":78,"b":82,"v":"R"},{"r":48,"a":83,"b":84,"v":"R"},{"r":48,"a":85,"b":86,"v":"R"},{"r":48,"a":90,"b":92,"v":"R"},{"r":48,"a":95,"b":98,"v":"B"},{"r":48,"a":98,"b":100,"v":"R"},{"r":48,"a":102,"b":103,"v":"R"},{"r":48,"a":105,"b":106,"v":"B"},{"r":48,"a":106,"b":108,"v":"R"},{"r":48,"a":109,"b":112,"v":"B"},{"r":48,"a":113,"b":114,"v":"R"},
{"r":49,"a":76,"b":86,"v":"R"},{"r":49,"a":87,"b":93,"v":"R"},{"r":49,"a":98,"b":99,"v":"R"},{"r":49,"a":102,"b":103,"v":"R"},{"r":49,"a":105,"b":109,"v":"R"},{"r":49,"a":112,"b":113,"v":"R"},
{"r":50,"a":76,"b":85,"v":"R"},{"r":50,"a":89,"b":90,"v":"R"},{"r":50,"a":102,"b":103,"v":"R"},{"r":50,"a":105,"b":111,"v":"R"},{"r":50,"a":113,"b":114,"v":"R"},
{"r":51,"a":79,"b":82,"v":"B"},{"r":51,"a":88,"b":94,"v":"B"},{"r":51,"a":97,"b":102,"v":"B"},{"r":51,"a":105,"b":106,"v":"B"},{"r":51,"a":107,"b":109,"v":"R"},{"r":51,"a":112,"b":114,"v":"B"},
{"r":52,"a":76,"b":79,"v":"R"},{"r":52,"a":80,"b":81,"v":"R"},{"r":52,"a":85,"b":88,"v":"R"},{"r":52,"a":89,"b":90,"v":"R"},{"r":52,"a":95,"b":97,"v":"R"},{"r":52,"a":101,"b":114,"v":"R"},
{"r":53,"a":76,"b":78,"v":"R"},{"r":53,"a":79,"b":80,"v":"R"},{"r":53,"a":80,"b":81,"v":"B"},{"r":53,"a":82,"b":83,"v":"B"},{"r":53,"a":100,"b":101,"v":"B"},{"r":53,"a":102,"b":103,"v":"B"},{"r":53,"a":104,"b":107,"v":"B"},{"r":53,"a":112,"b":114,"v":"B"},
{"r":54,"a":77,"b":80,"v":"R"},{"r":54,"a":86,"b":87,"v":"B"},{"r":54,"a":90,"b":91,"v":"B"},{"r":54,"a":92,"b":95,"v":"B"},{"r":54,"a":98,"b":99,"v":"B"},{"r":54,"a":99,"b":100,"v":"R"},{"r":54,"a":100,"b":101,"v":"B"},{"r":54,"a":105,"b":107,"v":"B"},{"r":54,"a":107,"b":108,"v":"R"},{"r":54,"a":110,"b":111,"v":"R"},{"r":54,"a":111,"b":112,"v":"B"},{"r":54,"a":113,"b":114,"v":"R"},
{"r":55,"a":78,"b":79,"v":"B"},{"r":55,"a":82,"b":83,"v":"B"},{"r":55,"a":86,"b":88,"v":"B"},{"r":55,"a":92,"b":93,"v":"R"},{"r":55,"a":94,"b":98,"v":"B"},{"r":55,"a":105,"b":106,"v":"B"},{"r":55,"a":107,"b":108,"v":"R"},{"r":55,"a":112,"b":113,"v":"B"},
{"r":56,"a":76,"b":78,"v":"R"},{"r":56,"a":80,"b":82,"v":"B"},{"r":56,"a":87,"b":92,"v":"R"},{"r":56,"a":92,"b":94,"v":"B"},{"r":56,"a":97,"b":99,"v":"R"},{"r":56,"a":101,"b":102,"v":"B"},{"r":56,"a":103,"b":105,"v":"B"},{"r":56,"a":106,"b":107,"v":"B"},{"r":56,"a":108,"b":112,"v":"R"},{"r":56,"a":113,"b":114,"v":"B"},
{"r":57,"a":76,"b":77,"v":"R"},{"r":57,"a":79,"b":80,"v":"R"},{"r":57,"a":80,"b":81,"v":"B"},{"r":57,"a":87,"b":88,"v":"B"},{"r":57,"a":90,"b":91,"v":"B"},{"r":57,"a":92,"b":93,"v":"R"},{"r":57,"a":97,"b":99,"v":"R"},{"r":57,"a":106,"b":111,"v":"R"},
{"r":58,"a":87,"b":88,"v":"B"},{"r":58,"a":89,"b":90,"v":"B"},{"r":58,"a":92,"b":94,"v":"B"},{"r":58,"a":99,"b":102,"v":"B"},{"r":58,"a":104,"b":107,"v":"B"},{"r":58,"a":108,"b":109,"v":"R"},{"r":58,"a":112,"b":113,"v":"R"},{"r":58,"a":113,"b":114,"v":"B"},
{"r":59,"a":76,"b":78,"v":"R"},{"r":59,"a":81,"b":83,"v":"B"},{"r":59,"a":85,"b":86,"v":"R"},{"r":59,"a":88,"b":106,"v":"B"},{"r":59,"a":106,"b":107,"v":"R"},{"r":59,"a":108,"b":109,"v":"R"},{"r":59,"a":112,"b":114,"v":"R"}
],
"bg":[{"a":0,"b":116,"t":-0.5,"u":59.5}],
"tA":[{"a":115,"b":116,"t":-0.5,"u":59.5}],
"tB":[{"a":114,"b":115,"t":-0.5,"u":59.5}],
"kss":[{"t":-0.5,"u":0.48,"g":"#ffffff"},{"t":0.48,"u":3.6,"g":"#e8e8e8"},{"t":3.6,"u":11.4,"g":"#d1d1d1"},{"t":11.4,"u":18.5,"g":"#b8b8b9"},{"t":18.5,"u":21.6,"g":"#9f9f9f"},{"t":21.6,"u":27.5,"g":"#8a8a8a"},{"t":27.5,"u":39.6,"g":"#707070"},{"t":39.6,"u":42.5,"g":"#555555"},{"t":42.5,"u":59.5,"g":"#3d3d3d"}],
"regions":[{"n":"Frontal","m":12,"e":0},{"n":"Sensory motor","m":28,"e":24},{"n":"Temporal","m":38,"e":32},{"n":"Parietal","m":49,"e":44},{"n":"Visual","m":61,"e":54},{"n":"Ins","m":69,"e":68},{"n":"cingulate","m":73,"e":70},{"n":"subcortical","m":82,"e":76},{"n":"Cerebelum","m":97,"e":88},{"n":"Vermis","m":110,"e":106},{"n":"Tha","m":115,"e":114}],
"cols":[{"c":1},{"c":2},{"c":3},{"c":4},{"c":5},{"c":6},{"c":7},{"c":8},{"c":9},{"c":10},{"c":11},{"c":12},{"c":13},{"c":14},{"c":15},{"c":16},{"c":17},{"c":18},{"c":19},{"c":20},{"c":21},{"c":22},{"c":23},{"c":24},{"c":25},{"c":26},{"c":27},{"c":28},{"c":29},{"c":30},{"c":31},{"c":32},{"c":33},{"c":34},{"c":35},{"c":36},{"c":37},{"c":38},{"c":39},{"c":40},{"c":41},{"c":42},{"c":43},{"c":44},{"c":45},{"c":46},{"c":47},{"c":48},{"c":49},{"c":50},{"c":51},{"c":52},{"c":53},{"c":54},{"c":55},{"c":56},{"c":57},{"c":58},{"c":59},{"c":60},{"c":61},{"c":62},{"c":63},{"c":64},{"c":65},{"c":66},{"c":67},{"c":68},{"c":69},{"c":70},{"c":71},{"c":72},{"c":73},{"c":74},{"c":75},{"c":76},{"c":77},{"c":78},{"c":79},{"c":80},{"c":81},{"c":82},{"c":83},{"c":84},{"c":85},{"c":86},{"c":87},{"c":88},{"c":89},{"c":90},{"c":91},{"c":92},{"c":93},{"c":94},{"c":95},{"c":96},{"c":97},{"c":98},{"c":99},{"c":100},{"c":101},{"c":102},{"c":103},{"c":104},{"c":105},{"c":106},{"c":107},{"c":108},{"c":109},{"c":110},{"c":111},{"c":112},{"c":113},{"c":114},{"c":115},{"c":116}],
"la":[{"t":"A","x":-6.75,"y":-10.68}],"lb":[{"t":"B","x":-7.05,"y":-9.11}],"kl":[{"t":"KSS","x":-2.05,"y":-2.46}],
"hl":[{"y":-4.41,"a":-3.29,"b":116}],"tl":[{"y":-8.72,"a":-3.29,"b":116}],"bl":[{"y":59.5,"a":-3.29,"b":116}],"vl":[{"x":-3.29},{"x":116}],"dt":[{"x":-0.3,"t":-0.5,"u":59.5}]},
"vconcat":[
{"width":1294,"height":382,"layer":[
{"data":{"name":"bg"},"mark":{"type":"rect","color":"#d4d2d4"},"encoding":{"x":{"field":"a","type":"quantitative","scale":{"domain":[-8.804,116.39],"nice":false,"zero":false}},"x2":{"field":"b"},"y":{"field":"t","type":"quantitative","scale":{"domain":[59.58,-15.18],"nice":false,"zero":false}},"y2":{"field":"u"}}},
{"data":{"name":"tA"},"mark":{"type":"rect","color":"#ee1c25"},"encoding":{"x":{"field":"a","type":"quantitative"},"x2":{"field":"b"},"y":{"field":"t","type":"quantitative"},"y2":{"field":"u"}}},
{"data":{"name":"kss"},"mark":{"type":"rect"},"encoding":{"x":{"datum":-3.29,"type":"quantitative"},"x2":{"datum":-0.05},"y":{"field":"t","type":"quantitative"},"y2":{"field":"u"},"color":{"field":"g","type":"nominal","scale":null}}},
{"data":{"name":"dt"},"mark":{"type":"rule","color":"#555555","strokeWidth":2,"strokeDash":[1,2]},"encoding":{"x":{"field":"x","type":"quantitative"},"y":{"field":"t","type":"quantitative"},"y2":{"field":"u"}}},
{"data":{"name":"A"},"mark":{"type":"rect","height":5.15,"strokeWidth":0.5},"encoding":{"x":{"field":"a","type":"quantitative"},"x2":{"field":"b"},"y":{"field":"r","type":"quantitative"},"color":{"field":"v","type":"nominal","legend":null,"scale":{"domain":["R","B"],"range":["#ee1c25","#0089c9"]}},"stroke":{"field":"v","type":"nominal","legend":null,"scale":{"domain":["R","B"],"range":["#ee1c25","#0089c9"]}}}},
{"data":{"name":"cols"},"mark":{"type":"rule","color":"#d8d8d8","strokeWidth":1},"encoding":{"x":{"field":"c","type":"quantitative"},"y":{"datum":-4.41,"type":"quantitative"},"y2":{"datum":-0.5}}},
{"data":{"name":"cols"},"mark":{"type":"text","fontSize":5,"dx":-5,"color":"#888888","font":"Roboto"},"encoding":{"x":{"field":"c","type":"quantitative"},"y":{"datum":-2.46,"type":"quantitative"},"text":{"field":"c"}}},
{"data":{"name":"regions"},"mark":{"type":"text","fontSize":12.5,"color":"#555555","font":"Roboto"},"encoding":{"x":{"field":"m","type":"quantitative"},"y":{"datum":-6.76,"type":"quantitative"},"text":{"field":"n"}}},
{"data":{"name":"regions"},"mark":{"type":"rule","color":"#000000","strokeWidth":1.4},"encoding":{"x":{"field":"e","type":"quantitative"},"y":{"datum":-8.72,"type":"quantitative"},"y2":{"datum":59.5}}},
{"data":{"name":"tl"},"mark":{"type":"rule","color":"#000000","strokeWidth":1.2},"encoding":{"x":{"field":"a","type":"quantitative"},"x2":{"field":"b"},"y":{"field":"y","type":"quantitative"}}},
{"data":{"name":"bl"},"mark":{"type":"rule","color":"#000000","strokeWidth":1.2},"encoding":{"x":{"field":"a","type":"quantitative"},"x2":{"field":"b"},"y":{"field":"y","type":"quantitative"}}},
{"data":{"name":"vl"},"mark":{"type":"rule","color":"#000000","strokeWidth":1.2},"encoding":{"x":{"field":"x","type":"quantitative"},"y":{"datum":-8.72,"type":"quantitative"},"y2":{"datum":59.5}}},
{"data":{"name":"hl"},"mark":{"type":"rule","color":"#d8d8d8","strokeWidth":1},"encoding":{"x":{"field":"a","type":"quantitative"},"x2":{"field":"b"},"y":{"field":"y","type":"quantitative"}}},
{"data":{"name":"kl"},"mark":{"type":"text","fontSize":12,"color":"#555555","font":"Roboto"},"encoding":{"x":{"field":"x","type":"quantitative"},"y":{"field":"y","type":"quantitative"},"text":{"field":"t"}}},
{"data":{"name":"la"},"mark":{"type":"text","fontSize":32,"fontWeight":"bold","font":"Liberation Sans","color":"#000000"},"encoding":{"x":{"field":"x","type":"quantitative"},"y":{"field":"y","type":"quantitative"},"text":{"field":"t"}}}
]},
{"width":1294,"height":380,"layer":[
{"data":{"name":"bg"},"mark":{"type":"rect","color":"#d4d2d4"},"encoding":{"x":{"field":"a","type":"quantitative","scale":{"domain":[-8.804,116.39],"nice":false,"zero":false}},"x2":{"field":"b"},"y":{"field":"t","type":"quantitative","scale":{"domain":[59.18,-15.18],"nice":false,"zero":false}},"y2":{"field":"u"}}},
{"data":{"name":"tB"},"mark":{"type":"rect","color":"#ee1c25"},"encoding":{"x":{"field":"a","type":"quantitative"},"x2":{"field":"b"},"y":{"field":"t","type":"quantitative"},"y2":{"field":"u"}}},
{"data":{"name":"kss"},"mark":{"type":"rect"},"encoding":{"x":{"datum":-3.29,"type":"quantitative"},"x2":{"datum":-0.05},"y":{"field":"t","type":"quantitative"},"y2":{"field":"u"},"color":{"field":"g","type":"nominal","scale":null}}},
{"data":{"name":"dt"},"mark":{"type":"rule","color":"#555555","strokeWidth":2,"strokeDash":[1,2]},"encoding":{"x":{"field":"x","type":"quantitative"},"y":{"field":"t","type":"quantitative"},"y2":{"field":"u"}}},
{"data":{"name":"B"},"mark":{"type":"rect","height":5.15,"strokeWidth":0.5,"clip":true},"encoding":{"x":{"field":"a","type":"quantitative"},"x2":{"field":"b"},"y":{"field":"r","type":"quantitative"},"color":{"field":"v","type":"nominal","legend":null,"scale":{"domain":["R","B"],"range":["#ee1c25","#0089c9"]}},"stroke":{"field":"v","type":"nominal","legend":null,"scale":{"domain":["R","B"],"range":["#ee1c25","#0089c9"]}}}},
{"data":{"name":"cols"},"mark":{"type":"rule","color":"#d8d8d8","strokeWidth":1},"encoding":{"x":{"field":"c","type":"quantitative"},"y":{"datum":-4.41,"type":"quantitative"},"y2":{"datum":-0.5}}},
{"data":{"name":"cols"},"mark":{"type":"text","fontSize":5,"dx":-5,"color":"#888888","font":"Roboto"},"encoding":{"x":{"field":"c","type":"quantitative"},"y":{"datum":-2.46,"type":"quantitative"},"text":{"field":"c"}}},
{"data":{"name":"regions"},"mark":{"type":"text","fontSize":12.5,"color":"#555555","font":"Roboto"},"encoding":{"x":{"field":"m","type":"quantitative"},"y":{"datum":-6.76,"type":"quantitative"},"text":{"field":"n"}}},
{"data":{"name":"regions"},"mark":{"type":"rule","color":"#000000","strokeWidth":1.4},"encoding":{"x":{"field":"e","type":"quantitative"},"y":{"datum":-8.72,"type":"quantitative"},"y2":{"datum":59.18}}},
{"data":{"name":"tl"},"mark":{"type":"rule","color":"#000000","strokeWidth":1.2},"encoding":{"x":{"field":"a","type":"quantitative"},"x2":{"field":"b"},"y":{"field":"y","type":"quantitative"}}},
{"data":{"name":"vl"},"mark":{"type":"rule","color":"#000000","strokeWidth":1.2},"encoding":{"x":{"field":"x","type":"quantitative"},"y":{"datum":-8.72,"type":"quantitative"},"y2":{"datum":59.18}}},
{"data":{"name":"hl"},"mark":{"type":"rule","color":"#d8d8d8","strokeWidth":1},"encoding":{"x":{"field":"a","type":"quantitative"},"x2":{"field":"b"},"y":{"field":"y","type":"quantitative"}}},
{"data":{"name":"kl"},"mark":{"type":"text","fontSize":12,"color":"#555555","font":"Roboto"},"encoding":{"x":{"field":"x","type":"quantitative"},"y":{"field":"y","type":"quantitative"},"text":{"field":"t"}}},
{"data":{"name":"lb"},"mark":{"type":"text","fontSize":32,"fontWeight":"bold","font":"Liberation Sans","color":"#000000"},"encoding":{"x":{"field":"x","type":"quantitative"},"y":{"field":"y","type":"quantitative"},"text":{"field":"t"}}}
]}
]}
